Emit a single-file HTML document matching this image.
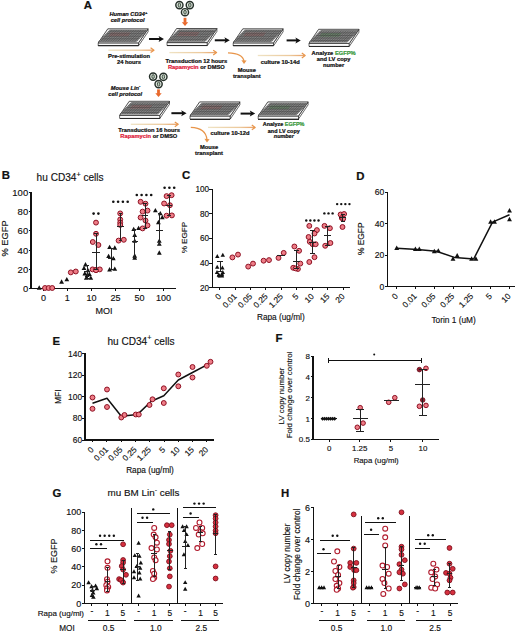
<!DOCTYPE html>
<html><head><meta charset="utf-8"><title>Figure</title>
<style>
html,body{margin:0;padding:0;background:#fff;width:520px;height:633px;overflow:hidden}
svg{display:block;font-family:"Liberation Sans", sans-serif}
</style></head>
<body>
<svg width="520" height="633" viewBox="0 0 520 633">
<defs>
<pattern id="grid" width="1.8" height="1.6" patternUnits="userSpaceOnUse" patternTransform="skewX(-34)">
<rect width="1.8" height="1.6" fill="#505050"/>
<rect x="0.4" y="0.35" width="0.9" height="0.85" fill="#b4b4b4"/>
</pattern>
<linearGradient id="og" x1="0" x2="1" y1="0" y2="0">
<stop offset="0" stop-color="#efe3c4"/>
<stop offset="0.7" stop-color="#ecc89a"/>
<stop offset="1" stop-color="#e9a066"/>
</linearGradient>
</defs>
<text x="83.8" y="9.4" font-size="11.4" text-anchor="start" fill="#111" font-weight="bold" stroke="#111" stroke-width="0.22">A</text>
<text x="128.4" y="16" font-size="5.7" text-anchor="middle" fill="#111" font-weight="bold" font-style="italic" stroke="#111" stroke-width="0.22">Human CD34<tspan dy="-1.8" font-size="4">+</tspan></text>
<text x="127.6" y="21.8" font-size="5.7" text-anchor="middle" fill="#111" font-weight="bold" font-style="italic" stroke="#111" stroke-width="0.22">cell protocol</text>
<polygon points="98.2,42.9 138.5,42.9 138.5,45.9 98.2,45.9" fill="#fbfbfb" stroke="#2a2a2a" stroke-width="0.7"/>
<line x1="98.2" y1="45.9" x2="138.5" y2="45.9" stroke="#2a2a2a" stroke-width="1" shape-rendering="crispEdges"/>
<polygon points="138.5,42.9 148.1,28.8 148.1,31.8 138.5,45.9" fill="#f4f4f4" stroke="#2a2a2a" stroke-width="0.7"/>
<polygon points="107.8,28.8 148.1,28.8 138.5,42.9 98.2,42.9" fill="#eeeeee" stroke="#2a2a2a" stroke-width="0.8"/>
<polygon points="109.99,30.1 147.69,30.1 136.31,41.6 98.61,41.6" fill="#a4a4a4" stroke="#333" stroke-width="0.5"/>
<polygon points="110.85,32.4 130.85,32.4 128.26,36.2 108.26,36.2" fill="#c85a5a" stroke="none" stroke-width="0" opacity="0.35"/>
<path d="M100.33 41.6L111.7 30.1M102.04 41.6L113.41 30.1M103.76 41.6L115.13 30.1M105.47 41.6L116.84 30.1M107.18 41.6L118.55 30.1M108.9 41.6L120.27 30.1M110.61 41.6L121.98 30.1M112.32 41.6L123.69 30.1M114.04 41.6L125.41 30.1M115.75 41.6L127.12 30.1M117.46 41.6L128.84 30.1M119.18 41.6L130.55 30.1M120.89 41.6L132.26 30.1M122.61 41.6L133.98 30.1M124.32 41.6L135.69 30.1M126.03 41.6L137.4 30.1M127.75 41.6L139.12 30.1M129.46 41.6L140.83 30.1M131.17 41.6L142.54 30.1M132.89 41.6L144.26 30.1M134.6 41.6L145.97 30.1M100.24 39.96L137.94 39.96M101.86 38.31L139.56 38.31M103.49 36.67L141.19 36.67M105.11 35.03L142.81 35.03M106.74 33.39L144.44 33.39M108.36 31.74L146.06 31.74" stroke="#3a3a3a" stroke-width="0.55" fill="none"/>
<line x1="149" y1="39" x2="160.5" y2="39" stroke="#111" stroke-width="2" stroke-linecap="butt"/>
<polygon points="164,39 158.6,36 159.8,39 158.6,42" fill="#111" stroke="none" stroke-width="0"/>
<circle cx="179.4" cy="5.1" r="3.6" fill="#dfe8df" stroke="#26302a" stroke-width="1.45"/>
<ellipse cx="179.4" cy="5.1" rx="1.25" ry="2.0" fill="#b9cdb9" stroke="#2f3a32" stroke-width="0.85"/>
<circle cx="189.8" cy="5.1" r="3.6" fill="#dfe8df" stroke="#26302a" stroke-width="1.45"/>
<ellipse cx="189.8" cy="5.1" rx="1.25" ry="2.0" fill="#b9cdb9" stroke="#2f3a32" stroke-width="0.85"/>
<circle cx="185" cy="12.2" r="3.6" fill="#dfe8df" stroke="#26302a" stroke-width="1.45"/>
<ellipse cx="185" cy="12.2" rx="1.25" ry="2.0" fill="#b9cdb9" stroke="#2f3a32" stroke-width="0.85"/>
<line x1="185" y1="17.8" x2="185" y2="22.8" stroke="#e8692c" stroke-width="2.8"/>
<polygon points="181.8,22.2 188.2,22.2 185,26" fill="#e8692c" stroke="none" stroke-width="0"/>
<polygon points="167,42.6 207.3,42.6 207.3,45.6 167,45.6" fill="#fbfbfb" stroke="#2a2a2a" stroke-width="0.7"/>
<line x1="167" y1="45.6" x2="207.3" y2="45.6" stroke="#2a2a2a" stroke-width="1" shape-rendering="crispEdges"/>
<polygon points="207.3,42.6 216.9,28.5 216.9,31.5 207.3,45.6" fill="#f4f4f4" stroke="#2a2a2a" stroke-width="0.7"/>
<polygon points="176.6,28.5 216.9,28.5 207.3,42.6 167,42.6" fill="#eeeeee" stroke="#2a2a2a" stroke-width="0.8"/>
<polygon points="178.79,29.8 216.49,29.8 205.11,41.3 167.41,41.3" fill="#a4a4a4" stroke="#333" stroke-width="0.5"/>
<polygon points="179.65,32.1 199.65,32.1 197.06,35.9 177.06,35.9" fill="#c85a5a" stroke="none" stroke-width="0" opacity="0.35"/>
<path d="M169.13 41.3L180.5 29.8M170.84 41.3L182.21 29.8M172.56 41.3L183.93 29.8M174.27 41.3L185.64 29.8M175.98 41.3L187.35 29.8M177.7 41.3L189.07 29.8M179.41 41.3L190.78 29.8M181.12 41.3L192.49 29.8M182.84 41.3L194.21 29.8M184.55 41.3L195.92 29.8M186.26 41.3L197.64 29.8M187.98 41.3L199.35 29.8M189.69 41.3L201.06 29.8M191.41 41.3L202.78 29.8M193.12 41.3L204.49 29.8M194.83 41.3L206.2 29.8M196.55 41.3L207.92 29.8M198.26 41.3L209.63 29.8M199.97 41.3L211.34 29.8M201.69 41.3L213.06 29.8M203.4 41.3L214.77 29.8M169.04 39.66L206.74 39.66M170.66 38.01L208.36 38.01M172.29 36.37L209.99 36.37M173.91 34.73L211.61 34.73M175.54 33.09L213.24 33.09M177.16 31.44L214.86 31.44" stroke="#3a3a3a" stroke-width="0.55" fill="none"/>
<line x1="214.8" y1="40.3" x2="226.3" y2="40.3" stroke="#111" stroke-width="2" stroke-linecap="butt"/>
<polygon points="229.8,40.3 224.4,37.3 225.6,40.3 224.4,43.3" fill="#111" stroke="none" stroke-width="0"/>
<polygon points="233.2,42.9 273.5,42.9 273.5,45.9 233.2,45.9" fill="#fbfbfb" stroke="#2a2a2a" stroke-width="0.7"/>
<line x1="233.2" y1="45.9" x2="273.5" y2="45.9" stroke="#2a2a2a" stroke-width="1" shape-rendering="crispEdges"/>
<polygon points="273.5,42.9 283.1,28.8 283.1,31.8 273.5,45.9" fill="#f4f4f4" stroke="#2a2a2a" stroke-width="0.7"/>
<polygon points="242.8,28.8 283.1,28.8 273.5,42.9 233.2,42.9" fill="#eeeeee" stroke="#2a2a2a" stroke-width="0.8"/>
<polygon points="244.99,30.1 282.69,30.1 271.31,41.6 233.61,41.6" fill="#a4a4a4" stroke="#333" stroke-width="0.5"/>
<polygon points="245.85,32.4 265.85,32.4 263.26,36.2 243.26,36.2" fill="#c85a5a" stroke="none" stroke-width="0" opacity="0.35"/>
<path d="M235.33 41.6L246.7 30.1M237.04 41.6L248.41 30.1M238.76 41.6L250.13 30.1M240.47 41.6L251.84 30.1M242.18 41.6L253.55 30.1M243.9 41.6L255.27 30.1M245.61 41.6L256.98 30.1M247.32 41.6L258.69 30.1M249.04 41.6L260.41 30.1M250.75 41.6L262.12 30.1M252.46 41.6L263.84 30.1M254.18 41.6L265.55 30.1M255.89 41.6L267.26 30.1M257.61 41.6L268.98 30.1M259.32 41.6L270.69 30.1M261.03 41.6L272.4 30.1M262.75 41.6L274.12 30.1M264.46 41.6L275.83 30.1M266.17 41.6L277.54 30.1M267.89 41.6L279.26 30.1M269.6 41.6L280.97 30.1M235.24 39.96L272.94 39.96M236.86 38.31L274.56 38.31M238.49 36.67L276.19 36.67M240.11 35.03L277.81 35.03M241.74 33.39L279.44 33.39M243.36 31.74L281.06 31.74" stroke="#3a3a3a" stroke-width="0.55" fill="none"/>
<line x1="286.6" y1="40.4" x2="297.3" y2="40.4" stroke="#111" stroke-width="2" stroke-linecap="butt"/>
<polygon points="300.8,40.4 295.4,37.4 296.6,40.4 295.4,43.4" fill="#111" stroke="none" stroke-width="0"/>
<polygon points="309,43.4 349.3,43.4 349.3,46.4 309,46.4" fill="#fbfbfb" stroke="#2a2a2a" stroke-width="0.7"/>
<line x1="309" y1="46.4" x2="349.3" y2="46.4" stroke="#2a2a2a" stroke-width="1" shape-rendering="crispEdges"/>
<polygon points="349.3,43.4 358.9,29.3 358.9,32.3 349.3,46.4" fill="#f4f4f4" stroke="#2a2a2a" stroke-width="0.7"/>
<polygon points="318.6,29.3 358.9,29.3 349.3,43.4 309,43.4" fill="#eeeeee" stroke="#2a2a2a" stroke-width="0.8"/>
<polygon points="320.79,30.6 358.49,30.6 347.11,42.1 309.41,42.1" fill="#a4a4a4" stroke="#333" stroke-width="0.5"/>
<polygon points="321.65,32.9 341.65,32.9 339.06,36.7 319.06,36.7" fill="#3c9a3c" stroke="none" stroke-width="0" opacity="0.35"/>
<path d="M311.13 42.1L322.5 30.6M312.84 42.1L324.21 30.6M314.56 42.1L325.93 30.6M316.27 42.1L327.64 30.6M317.98 42.1L329.35 30.6M319.7 42.1L331.07 30.6M321.41 42.1L332.78 30.6M323.12 42.1L334.49 30.6M324.84 42.1L336.21 30.6M326.55 42.1L337.92 30.6M328.26 42.1L339.64 30.6M329.98 42.1L341.35 30.6M331.69 42.1L343.06 30.6M333.41 42.1L344.78 30.6M335.12 42.1L346.49 30.6M336.83 42.1L348.2 30.6M338.55 42.1L349.92 30.6M340.26 42.1L351.63 30.6M341.97 42.1L353.34 30.6M343.69 42.1L355.06 30.6M345.4 42.1L356.77 30.6M311.04 40.46L348.74 40.46M312.66 38.81L350.36 38.81M314.29 37.17L351.99 37.17M315.91 35.53L353.61 35.53M317.54 33.89L355.24 33.89M319.16 32.24L356.86 32.24" stroke="#3a3a3a" stroke-width="0.55" fill="none"/>
<rect x="108.4" y="49.55" width="44.8" height="1.3" fill="url(#og)"/>
<polyline points="150.6,47.8 154,50.2 150.6,52.6" fill="none" stroke="#e8954a" stroke-width="1.2" stroke-linejoin="round"/>
<text x="129" y="58.4" font-size="5.75" text-anchor="middle" fill="#111" font-weight="bold" stroke="#111" stroke-width="0.22">Pre-stimulation</text>
<text x="129" y="64.2" font-size="5.75" text-anchor="middle" fill="#111" font-weight="bold" stroke="#111" stroke-width="0.22">24 hours</text>
<rect x="169.4" y="51.95" width="46.4" height="1.3" fill="url(#og)"/>
<polyline points="213.2,50.2 216.6,52.6 213.2,55" fill="none" stroke="#e8954a" stroke-width="1.2" stroke-linejoin="round"/>
<text x="196.4" y="62.8" font-size="5.75" text-anchor="middle" fill="#111" font-weight="bold" stroke="#111" stroke-width="0.22">Transduction 12 hours</text>
<text x="196.4" y="69" font-size="5.75" text-anchor="middle" fill="#111" font-weight="bold" stroke="#111" stroke-width="0.22"><tspan fill="#e0203a" stroke="#e0203a">Rapamycin</tspan> or DMSO</text>
<path d="M228 52.8 Q243 53.3 244 61.3" fill="none" stroke="#e8954a" stroke-width="1.2"/>
<polygon points="244,64 241.4,60.2 246.6,60.6" fill="#e8954a" stroke="none" stroke-width="0"/>
<text x="246.8" y="72" font-size="5.75" text-anchor="middle" fill="#111" font-weight="bold" stroke="#111" stroke-width="0.22">Mouse</text>
<text x="246.8" y="78" font-size="5.75" text-anchor="middle" fill="#111" font-weight="bold" stroke="#111" stroke-width="0.22">transplant</text>
<rect x="257.8" y="54.85" width="46.6" height="1.3" fill="url(#og)"/>
<polyline points="301.8,53.1 305.2,55.5 301.8,57.9" fill="none" stroke="#e8954a" stroke-width="1.2" stroke-linejoin="round"/>
<text x="280.2" y="63.8" font-size="5.75" text-anchor="middle" fill="#111" font-weight="bold" stroke="#111" stroke-width="0.22">culture 10-14d</text>
<text x="333.6" y="54.6" font-size="5.75" text-anchor="middle" fill="#111" font-weight="bold" stroke="#111" stroke-width="0.22">Analyze <tspan fill="#3d9a3f" stroke="#3d9a3f">EGFP%</tspan></text>
<text x="333.6" y="61" font-size="5.75" text-anchor="middle" fill="#111" font-weight="bold" stroke="#111" stroke-width="0.22">and LV copy</text>
<text x="333.6" y="67.2" font-size="5.75" text-anchor="middle" fill="#111" font-weight="bold" stroke="#111" stroke-width="0.22">number</text>
<circle cx="153.1" cy="76.6" r="3.6" fill="#dfe8df" stroke="#26302a" stroke-width="1.45"/>
<ellipse cx="153.1" cy="76.6" rx="1.25" ry="2.0" fill="#b9cdb9" stroke="#2f3a32" stroke-width="0.85"/>
<circle cx="163.4" cy="76.8" r="3.6" fill="#dfe8df" stroke="#26302a" stroke-width="1.45"/>
<ellipse cx="163.4" cy="76.8" rx="1.25" ry="2.0" fill="#b9cdb9" stroke="#2f3a32" stroke-width="0.85"/>
<circle cx="158.6" cy="84.1" r="3.6" fill="#dfe8df" stroke="#26302a" stroke-width="1.45"/>
<ellipse cx="158.6" cy="84.1" rx="1.25" ry="2.0" fill="#b9cdb9" stroke="#2f3a32" stroke-width="0.85"/>
<line x1="158.5" y1="89.4" x2="158.5" y2="93.9" stroke="#e8692c" stroke-width="2.8"/>
<polygon points="155.3,93.3 161.7,93.3 158.5,97.1" fill="#e8692c" stroke="none" stroke-width="0"/>
<text x="125.6" y="89.8" font-size="5.7" text-anchor="middle" fill="#111" font-weight="bold" font-style="italic" stroke="#111" stroke-width="0.22">Mouse Lin<tspan dy="-2.4" font-size="4">-</tspan></text>
<text x="125.2" y="95.6" font-size="5.7" text-anchor="middle" fill="#111" font-weight="bold" font-style="italic" stroke="#111" stroke-width="0.22">cell protocol</text>
<polygon points="119.6,115.4 159.9,115.4 159.9,118.4 119.6,118.4" fill="#fbfbfb" stroke="#2a2a2a" stroke-width="0.7"/>
<line x1="119.6" y1="118.4" x2="159.9" y2="118.4" stroke="#2a2a2a" stroke-width="1" shape-rendering="crispEdges"/>
<polygon points="159.9,115.4 169.5,101.3 169.5,104.3 159.9,118.4" fill="#f4f4f4" stroke="#2a2a2a" stroke-width="0.7"/>
<polygon points="129.2,101.3 169.5,101.3 159.9,115.4 119.6,115.4" fill="#eeeeee" stroke="#2a2a2a" stroke-width="0.8"/>
<polygon points="131.39,102.6 169.09,102.6 157.71,114.1 120.01,114.1" fill="#a4a4a4" stroke="#333" stroke-width="0.5"/>
<polygon points="132.25,104.9 152.25,104.9 149.66,108.7 129.66,108.7" fill="#c85a5a" stroke="none" stroke-width="0" opacity="0.35"/>
<path d="M121.73 114.1L133.1 102.6M123.44 114.1L134.81 102.6M125.16 114.1L136.53 102.6M126.87 114.1L138.24 102.6M128.58 114.1L139.95 102.6M130.3 114.1L141.67 102.6M132.01 114.1L143.38 102.6M133.72 114.1L145.09 102.6M135.44 114.1L146.81 102.6M137.15 114.1L148.52 102.6M138.86 114.1L150.24 102.6M140.58 114.1L151.95 102.6M142.29 114.1L153.66 102.6M144.01 114.1L155.38 102.6M145.72 114.1L157.09 102.6M147.43 114.1L158.8 102.6M149.15 114.1L160.52 102.6M150.86 114.1L162.23 102.6M152.57 114.1L163.94 102.6M154.29 114.1L165.66 102.6M156 114.1L167.37 102.6M121.64 112.46L159.34 112.46M123.26 110.81L160.96 110.81M124.89 109.17L162.59 109.17M126.51 107.53L164.21 107.53M128.14 105.89L165.84 105.89M129.76 104.24L167.46 104.24" stroke="#3a3a3a" stroke-width="0.55" fill="none"/>
<line x1="171.4" y1="113.2" x2="183.1" y2="113.2" stroke="#111" stroke-width="2" stroke-linecap="butt"/>
<polygon points="186.6,113.2 181.2,110.2 182.4,113.2 181.2,116.2" fill="#111" stroke="none" stroke-width="0"/>
<polygon points="190,116 230.3,116 230.3,119 190,119" fill="#fbfbfb" stroke="#2a2a2a" stroke-width="0.7"/>
<line x1="190" y1="119" x2="230.3" y2="119" stroke="#2a2a2a" stroke-width="1" shape-rendering="crispEdges"/>
<polygon points="230.3,116 239.9,101.9 239.9,104.9 230.3,119" fill="#f4f4f4" stroke="#2a2a2a" stroke-width="0.7"/>
<polygon points="199.6,101.9 239.9,101.9 230.3,116 190,116" fill="#eeeeee" stroke="#2a2a2a" stroke-width="0.8"/>
<polygon points="201.79,103.2 239.49,103.2 228.11,114.7 190.41,114.7" fill="#a4a4a4" stroke="#333" stroke-width="0.5"/>
<polygon points="202.65,105.5 222.65,105.5 220.06,109.3 200.06,109.3" fill="#c85a5a" stroke="none" stroke-width="0" opacity="0.35"/>
<path d="M192.13 114.7L203.5 103.2M193.84 114.7L205.21 103.2M195.56 114.7L206.93 103.2M197.27 114.7L208.64 103.2M198.98 114.7L210.35 103.2M200.7 114.7L212.07 103.2M202.41 114.7L213.78 103.2M204.12 114.7L215.49 103.2M205.84 114.7L217.21 103.2M207.55 114.7L218.92 103.2M209.26 114.7L220.64 103.2M210.98 114.7L222.35 103.2M212.69 114.7L224.06 103.2M214.41 114.7L225.78 103.2M216.12 114.7L227.49 103.2M217.83 114.7L229.2 103.2M219.55 114.7L230.92 103.2M221.26 114.7L232.63 103.2M222.97 114.7L234.34 103.2M224.69 114.7L236.06 103.2M226.4 114.7L237.77 103.2M192.04 113.06L229.74 113.06M193.66 111.41L231.36 111.41M195.29 109.77L232.99 109.77M196.91 108.13L234.61 108.13M198.54 106.49L236.24 106.49M200.16 104.84L237.86 104.84" stroke="#3a3a3a" stroke-width="0.55" fill="none"/>
<line x1="240.6" y1="113.6" x2="251.7" y2="113.6" stroke="#111" stroke-width="2" stroke-linecap="butt"/>
<polygon points="255.2,113.6 249.8,110.6 251,113.6 249.8,116.6" fill="#111" stroke="none" stroke-width="0"/>
<polygon points="258.2,116 298.5,116 298.5,119 258.2,119" fill="#fbfbfb" stroke="#2a2a2a" stroke-width="0.7"/>
<line x1="258.2" y1="119" x2="298.5" y2="119" stroke="#2a2a2a" stroke-width="1" shape-rendering="crispEdges"/>
<polygon points="298.5,116 308.1,101.9 308.1,104.9 298.5,119" fill="#f4f4f4" stroke="#2a2a2a" stroke-width="0.7"/>
<polygon points="267.8,101.9 308.1,101.9 298.5,116 258.2,116" fill="#eeeeee" stroke="#2a2a2a" stroke-width="0.8"/>
<polygon points="269.99,103.2 307.69,103.2 296.31,114.7 258.61,114.7" fill="#a4a4a4" stroke="#333" stroke-width="0.5"/>
<polygon points="270.85,105.5 290.85,105.5 288.26,109.3 268.26,109.3" fill="#3c9a3c" stroke="none" stroke-width="0" opacity="0.35"/>
<path d="M260.33 114.7L271.7 103.2M262.04 114.7L273.41 103.2M263.76 114.7L275.13 103.2M265.47 114.7L276.84 103.2M267.18 114.7L278.55 103.2M268.9 114.7L280.27 103.2M270.61 114.7L281.98 103.2M272.32 114.7L283.69 103.2M274.04 114.7L285.41 103.2M275.75 114.7L287.12 103.2M277.46 114.7L288.84 103.2M279.18 114.7L290.55 103.2M280.89 114.7L292.26 103.2M282.61 114.7L293.98 103.2M284.32 114.7L295.69 103.2M286.03 114.7L297.4 103.2M287.75 114.7L299.12 103.2M289.46 114.7L300.83 103.2M291.17 114.7L302.54 103.2M292.89 114.7L304.26 103.2M294.6 114.7L305.97 103.2M260.24 113.06L297.94 113.06M261.86 111.41L299.56 111.41M263.49 109.77L301.19 109.77M265.11 108.13L302.81 108.13M266.74 106.49L304.44 106.49M268.36 104.84L306.06 104.84" stroke="#3a3a3a" stroke-width="0.55" fill="none"/>
<rect x="130.8" y="123.65" width="46.6" height="1.3" fill="url(#og)"/>
<polyline points="174.8,121.9 178.2,124.3 174.8,126.7" fill="none" stroke="#e8954a" stroke-width="1.2" stroke-linejoin="round"/>
<text x="149.2" y="132" font-size="5.75" text-anchor="middle" fill="#111" font-weight="bold" stroke="#111" stroke-width="0.22">Transduction 16 hours</text>
<text x="148.8" y="137.8" font-size="5.75" text-anchor="middle" fill="#111" font-weight="bold" stroke="#111" stroke-width="0.22"><tspan fill="#e0203a" stroke="#e0203a">Rapamycin</tspan> or DMSO</text>
<rect x="208" y="126.75" width="46.4" height="1.3" fill="url(#og)"/>
<polyline points="251.8,125 255.2,127.4 251.8,129.8" fill="none" stroke="#e8954a" stroke-width="1.2" stroke-linejoin="round"/>
<text x="230" y="134.6" font-size="5.75" text-anchor="middle" fill="#111" font-weight="bold" stroke="#111" stroke-width="0.22">culture 10-12d</text>
<path d="M190.8 127.4 Q206 127.9 207 139.9" fill="none" stroke="#e8954a" stroke-width="1.2"/>
<polygon points="207,142.6 204.4,138.8 209.6,139.2" fill="#e8954a" stroke="none" stroke-width="0"/>
<text x="209" y="149" font-size="5.75" text-anchor="middle" fill="#111" font-weight="bold" stroke="#111" stroke-width="0.22">Mouse</text>
<text x="209" y="155.2" font-size="5.75" text-anchor="middle" fill="#111" font-weight="bold" stroke="#111" stroke-width="0.22">transplant</text>
<text x="283.6" y="126.4" font-size="5.45" text-anchor="middle" fill="#111" font-weight="bold" stroke="#111" stroke-width="0.22">Analyze <tspan fill="#3d9a3f" stroke="#3d9a3f">EGFP%</tspan></text>
<text x="283.8" y="132.6" font-size="5.45" text-anchor="middle" fill="#111" font-weight="bold" stroke="#111" stroke-width="0.22">and LV copy</text>
<text x="283.8" y="138.4" font-size="5.45" text-anchor="middle" fill="#111" font-weight="bold" font-style="italic" stroke="#111" stroke-width="0.22">number</text>
<text x="1.8" y="178.9" font-size="11.4" text-anchor="start" fill="#111" font-weight="bold" stroke="#111" stroke-width="0.22">B</text>
<text x="36.6" y="181.1" font-size="10.1" text-anchor="start" fill="#111" stroke="#111" stroke-width="0.15">hu CD34<tspan dy="-4.4" font-size="7.2">+</tspan><tspan dy="4.4"> cells</tspan></text>
<line x1="31" y1="192.2" x2="31" y2="288.9" stroke="#111" stroke-width="1.1" shape-rendering="crispEdges"/>
<line x1="28.8" y1="288.4" x2="31" y2="288.4" stroke="#111" stroke-width="1" shape-rendering="crispEdges"/>
<text x="28.2" y="291.82" font-size="9.5" text-anchor="end" fill="#111" stroke="#111" stroke-width="0.15">0</text>
<line x1="28.8" y1="269.24" x2="31" y2="269.24" stroke="#111" stroke-width="1" shape-rendering="crispEdges"/>
<text x="28.2" y="272.66" font-size="9.5" text-anchor="end" fill="#111" stroke="#111" stroke-width="0.15">20</text>
<line x1="28.8" y1="250.08" x2="31" y2="250.08" stroke="#111" stroke-width="1" shape-rendering="crispEdges"/>
<text x="28.2" y="253.5" font-size="9.5" text-anchor="end" fill="#111" stroke="#111" stroke-width="0.15">40</text>
<line x1="28.8" y1="230.92" x2="31" y2="230.92" stroke="#111" stroke-width="1" shape-rendering="crispEdges"/>
<text x="28.2" y="234.34" font-size="9.5" text-anchor="end" fill="#111" stroke="#111" stroke-width="0.15">60</text>
<line x1="28.8" y1="211.76" x2="31" y2="211.76" stroke="#111" stroke-width="1" shape-rendering="crispEdges"/>
<text x="28.2" y="215.18" font-size="9.5" text-anchor="end" fill="#111" stroke="#111" stroke-width="0.15">80</text>
<line x1="28.8" y1="192.6" x2="31" y2="192.6" stroke="#111" stroke-width="1" shape-rendering="crispEdges"/>
<text x="28.2" y="196.02" font-size="9.5" text-anchor="end" fill="#111" stroke="#111" stroke-width="0.15">100</text>
<line x1="30.5" y1="288.4" x2="175.5" y2="288.4" stroke="#111" stroke-width="1.1" shape-rendering="crispEdges"/>
<line x1="43.4" y1="288.4" x2="43.4" y2="290.8" stroke="#111" stroke-width="1" shape-rendering="crispEdges"/>
<text x="43.4" y="301" font-size="9" text-anchor="middle" fill="#111" stroke="#111" stroke-width="0.15">0</text>
<line x1="67.3" y1="288.4" x2="67.3" y2="290.8" stroke="#111" stroke-width="1" shape-rendering="crispEdges"/>
<text x="67.3" y="301" font-size="9" text-anchor="middle" fill="#111" stroke="#111" stroke-width="0.15">1</text>
<line x1="91.4" y1="288.4" x2="91.4" y2="290.8" stroke="#111" stroke-width="1" shape-rendering="crispEdges"/>
<text x="91.4" y="301" font-size="9" text-anchor="middle" fill="#111" stroke="#111" stroke-width="0.15">10</text>
<line x1="115.5" y1="288.4" x2="115.5" y2="290.8" stroke="#111" stroke-width="1" shape-rendering="crispEdges"/>
<text x="115.5" y="301" font-size="9" text-anchor="middle" fill="#111" stroke="#111" stroke-width="0.15">25</text>
<line x1="139.6" y1="288.4" x2="139.6" y2="290.8" stroke="#111" stroke-width="1" shape-rendering="crispEdges"/>
<text x="139.6" y="301" font-size="9" text-anchor="middle" fill="#111" stroke="#111" stroke-width="0.15">50</text>
<line x1="163.5" y1="288.4" x2="163.5" y2="290.8" stroke="#111" stroke-width="1" shape-rendering="crispEdges"/>
<text x="163.5" y="301" font-size="9" text-anchor="middle" fill="#111" stroke="#111" stroke-width="0.15">100</text>
<text x="104" y="313.9" font-size="9" text-anchor="middle" fill="#111" stroke="#111" stroke-width="0.15">MOI</text>
<text x="8.2" y="238.4" font-size="9.3" text-anchor="middle" fill="#111" stroke="#111" stroke-width="0.15" transform="rotate(-90 8.2 238.4)">% EGFP</text>
<polygon points="39.2,285.32 41.6,289.64 36.8,289.64" fill="#111" stroke="none" stroke-width="0"/>
<circle cx="45" cy="288" r="2.45" fill="#ee7d87" stroke="#8e1022" stroke-width="1"/>
<circle cx="48.6" cy="288" r="2.45" fill="#ee7d87" stroke="#8e1022" stroke-width="1"/>
<circle cx="52.2" cy="288" r="2.45" fill="#ee7d87" stroke="#8e1022" stroke-width="1"/>
<polygon points="61.6,279.32 64,283.64 59.2,283.64" fill="#111" stroke="none" stroke-width="0"/>
<polygon points="66.8,276.92 69.2,281.24 64.4,281.24" fill="#111" stroke="none" stroke-width="0"/>
<circle cx="70.8" cy="272.4" r="2.45" fill="#ee7d87" stroke="#8e1022" stroke-width="1"/>
<circle cx="75.8" cy="271.5" r="2.45" fill="#ee7d87" stroke="#8e1022" stroke-width="1"/>
<polygon points="85.5,262.12 87.9,266.44 83.1,266.44" fill="#111" stroke="none" stroke-width="0"/>
<polygon points="84,265.72 86.4,270.04 81.6,270.04" fill="#111" stroke="none" stroke-width="0"/>
<polygon points="88,267.92 90.4,272.24 85.6,272.24" fill="#111" stroke="none" stroke-width="0"/>
<polygon points="84.8,271.12 87.2,275.44 82.4,275.44" fill="#111" stroke="none" stroke-width="0"/>
<polygon points="89.4,271.72 91.8,276.04 87,276.04" fill="#111" stroke="none" stroke-width="0"/>
<polygon points="86.3,275.52 88.7,279.84 83.9,279.84" fill="#111" stroke="none" stroke-width="0"/>
<polygon points="90.8,275.52 93.2,279.84 88.4,279.84" fill="#111" stroke="none" stroke-width="0"/>
<polygon points="87.2,272.62 89.6,276.94 84.8,276.94" fill="#111" stroke="none" stroke-width="0"/>
<line x1="87.2" y1="265.5" x2="87.2" y2="278" stroke="#222" stroke-width="1" shape-rendering="crispEdges"/>
<line x1="85.7" y1="265.5" x2="88.7" y2="265.5" stroke="#222" stroke-width="1" shape-rendering="crispEdges"/>
<line x1="85.7" y1="278" x2="88.7" y2="278" stroke="#222" stroke-width="1" shape-rendering="crispEdges"/>
<line x1="84.2" y1="271" x2="90.2" y2="271" stroke="#222" stroke-width="1" shape-rendering="crispEdges"/>
<circle cx="96" cy="222.6" r="2.45" fill="#ee7d87" stroke="#8e1022" stroke-width="1"/>
<circle cx="96" cy="233.8" r="2.45" fill="#ee7d87" stroke="#8e1022" stroke-width="1"/>
<circle cx="92.8" cy="242" r="2.45" fill="#ee7d87" stroke="#8e1022" stroke-width="1"/>
<circle cx="98.4" cy="245" r="2.45" fill="#ee7d87" stroke="#8e1022" stroke-width="1"/>
<circle cx="92.6" cy="269.4" r="2.45" fill="#ee7d87" stroke="#8e1022" stroke-width="1"/>
<circle cx="96" cy="269.9" r="2.45" fill="#ee7d87" stroke="#8e1022" stroke-width="1"/>
<circle cx="99.8" cy="269.4" r="2.45" fill="#ee7d87" stroke="#8e1022" stroke-width="1"/>
<circle cx="96" cy="270.2" r="2.45" fill="#ee7d87" stroke="#8e1022" stroke-width="1"/>
<line x1="96" y1="233.8" x2="96" y2="269.6" stroke="#222" stroke-width="1" shape-rendering="crispEdges"/>
<line x1="94.4" y1="233.8" x2="97.6" y2="233.8" stroke="#222" stroke-width="1" shape-rendering="crispEdges"/>
<line x1="94.4" y1="269.6" x2="97.6" y2="269.6" stroke="#222" stroke-width="1" shape-rendering="crispEdges"/>
<line x1="92.4" y1="252.6" x2="99.6" y2="252.6" stroke="#222" stroke-width="1" shape-rendering="crispEdges"/>
<circle cx="93.6" cy="213.6" r="1.3" fill="#111"/>
<circle cx="98.4" cy="213.6" r="1.3" fill="#111"/>
<polygon points="109.6,244.72 112,249.04 107.2,249.04" fill="#111" stroke="none" stroke-width="0"/>
<polygon points="114.8,245.32 117.2,249.64 112.4,249.64" fill="#111" stroke="none" stroke-width="0"/>
<polygon points="108.6,253.72 111,258.04 106.2,258.04" fill="#111" stroke="none" stroke-width="0"/>
<polygon points="113.3,255.92 115.7,260.24 110.9,260.24" fill="#111" stroke="none" stroke-width="0"/>
<polygon points="109.6,267.12 112,271.44 107.2,271.44" fill="#111" stroke="none" stroke-width="0"/>
<polygon points="114.8,266.52 117.2,270.84 112.4,270.84" fill="#111" stroke="none" stroke-width="0"/>
<line x1="111.4" y1="248.2" x2="111.4" y2="269.4" stroke="#222" stroke-width="1" shape-rendering="crispEdges"/>
<line x1="109.8" y1="248.2" x2="113" y2="248.2" stroke="#222" stroke-width="1" shape-rendering="crispEdges"/>
<line x1="109.8" y1="269.4" x2="113" y2="269.4" stroke="#222" stroke-width="1" shape-rendering="crispEdges"/>
<line x1="108.2" y1="258.6" x2="114.6" y2="258.6" stroke="#222" stroke-width="1" shape-rendering="crispEdges"/>
<circle cx="120.2" cy="213.4" r="2.45" fill="#ee7d87" stroke="#8e1022" stroke-width="1"/>
<circle cx="120.2" cy="219.5" r="2.45" fill="#ee7d87" stroke="#8e1022" stroke-width="1"/>
<circle cx="120.2" cy="222.6" r="2.45" fill="#ee7d87" stroke="#8e1022" stroke-width="1"/>
<circle cx="120.2" cy="224.9" r="2.45" fill="#ee7d87" stroke="#8e1022" stroke-width="1"/>
<circle cx="118.6" cy="240.6" r="2.45" fill="#ee7d87" stroke="#8e1022" stroke-width="1"/>
<circle cx="123.8" cy="239.8" r="2.45" fill="#ee7d87" stroke="#8e1022" stroke-width="1"/>
<line x1="120.2" y1="213.6" x2="120.2" y2="240" stroke="#222" stroke-width="1" shape-rendering="crispEdges"/>
<line x1="118.6" y1="213.6" x2="121.8" y2="213.6" stroke="#222" stroke-width="1" shape-rendering="crispEdges"/>
<line x1="118.6" y1="240" x2="121.8" y2="240" stroke="#222" stroke-width="1" shape-rendering="crispEdges"/>
<line x1="116.8" y1="226.4" x2="123.6" y2="226.4" stroke="#222" stroke-width="1" shape-rendering="crispEdges"/>
<circle cx="113.3" cy="201.8" r="1.3" fill="#111"/>
<circle cx="118.1" cy="201.8" r="1.3" fill="#111"/>
<circle cx="122.9" cy="201.8" r="1.3" fill="#111"/>
<circle cx="127.7" cy="201.8" r="1.3" fill="#111"/>
<polygon points="133.7,226.72 136.1,231.04 131.3,231.04" fill="#111" stroke="none" stroke-width="0"/>
<polygon points="138.6,225.72 141,230.04 136.2,230.04" fill="#111" stroke="none" stroke-width="0"/>
<polygon points="134.7,232.62 137.1,236.94 132.3,236.94" fill="#111" stroke="none" stroke-width="0"/>
<polygon points="134.7,238.52 137.1,242.84 132.3,242.84" fill="#111" stroke="none" stroke-width="0"/>
<polygon points="134.7,253.32 137.1,257.64 132.3,257.64" fill="#111" stroke="none" stroke-width="0"/>
<polygon points="134.7,255.32 137.1,259.64 132.3,259.64" fill="#111" stroke="none" stroke-width="0"/>
<line x1="134.7" y1="229.4" x2="134.7" y2="257.8" stroke="#222" stroke-width="1" shape-rendering="crispEdges"/>
<line x1="133.1" y1="229.4" x2="136.3" y2="229.4" stroke="#222" stroke-width="1" shape-rendering="crispEdges"/>
<line x1="133.1" y1="257.8" x2="136.3" y2="257.8" stroke="#222" stroke-width="1" shape-rendering="crispEdges"/>
<line x1="131.5" y1="241.2" x2="137.9" y2="241.2" stroke="#222" stroke-width="1" shape-rendering="crispEdges"/>
<circle cx="140.6" cy="201.8" r="2.45" fill="#ee7d87" stroke="#8e1022" stroke-width="1"/>
<circle cx="145.5" cy="203.7" r="2.45" fill="#ee7d87" stroke="#8e1022" stroke-width="1"/>
<circle cx="142.6" cy="211.6" r="2.45" fill="#ee7d87" stroke="#8e1022" stroke-width="1"/>
<circle cx="147.5" cy="210.6" r="2.45" fill="#ee7d87" stroke="#8e1022" stroke-width="1"/>
<circle cx="140.6" cy="217.5" r="2.45" fill="#ee7d87" stroke="#8e1022" stroke-width="1"/>
<circle cx="145.5" cy="220.5" r="2.45" fill="#ee7d87" stroke="#8e1022" stroke-width="1"/>
<circle cx="147.5" cy="225.4" r="2.45" fill="#ee7d87" stroke="#8e1022" stroke-width="1"/>
<circle cx="142.6" cy="228.4" r="2.45" fill="#ee7d87" stroke="#8e1022" stroke-width="1"/>
<line x1="145" y1="203.6" x2="145" y2="228" stroke="#222" stroke-width="1" shape-rendering="crispEdges"/>
<line x1="143.4" y1="203.6" x2="146.6" y2="203.6" stroke="#222" stroke-width="1" shape-rendering="crispEdges"/>
<line x1="143.4" y1="228" x2="146.6" y2="228" stroke="#222" stroke-width="1" shape-rendering="crispEdges"/>
<line x1="141.6" y1="215.4" x2="148.4" y2="215.4" stroke="#222" stroke-width="1" shape-rendering="crispEdges"/>
<circle cx="136.8" cy="195" r="1.3" fill="#111"/>
<circle cx="141.6" cy="195" r="1.3" fill="#111"/>
<circle cx="146.4" cy="195" r="1.3" fill="#111"/>
<circle cx="151.2" cy="195" r="1.3" fill="#111"/>
<polygon points="155.4,207.92 157.8,212.24 153,212.24" fill="#111" stroke="none" stroke-width="0"/>
<polygon points="160.3,210.92 162.7,215.24 157.9,215.24" fill="#111" stroke="none" stroke-width="0"/>
<polygon points="162.3,214.82 164.7,219.14 159.9,219.14" fill="#111" stroke="none" stroke-width="0"/>
<polygon points="158.4,219.82 160.8,224.14 156,224.14" fill="#111" stroke="none" stroke-width="0"/>
<polygon points="159.3,238.52 161.7,242.84 156.9,242.84" fill="#111" stroke="none" stroke-width="0"/>
<polygon points="159.3,241.52 161.7,245.84 156.9,245.84" fill="#111" stroke="none" stroke-width="0"/>
<polygon points="159.3,250.32 161.7,254.64 156.9,254.64" fill="#111" stroke="none" stroke-width="0"/>
<line x1="159.3" y1="213.6" x2="159.3" y2="244" stroke="#222" stroke-width="1" shape-rendering="crispEdges"/>
<line x1="157.7" y1="213.6" x2="160.9" y2="213.6" stroke="#222" stroke-width="1" shape-rendering="crispEdges"/>
<line x1="157.7" y1="244" x2="160.9" y2="244" stroke="#222" stroke-width="1" shape-rendering="crispEdges"/>
<line x1="155.7" y1="230.4" x2="162.9" y2="230.4" stroke="#222" stroke-width="1" shape-rendering="crispEdges"/>
<circle cx="166.6" cy="196.1" r="2.45" fill="#ee7d87" stroke="#8e1022" stroke-width="1"/>
<circle cx="171.6" cy="195.2" r="2.45" fill="#ee7d87" stroke="#8e1022" stroke-width="1"/>
<circle cx="164.1" cy="203.5" r="2.45" fill="#ee7d87" stroke="#8e1022" stroke-width="1"/>
<circle cx="169.9" cy="205.2" r="2.45" fill="#ee7d87" stroke="#8e1022" stroke-width="1"/>
<circle cx="166.6" cy="215.7" r="2.45" fill="#ee7d87" stroke="#8e1022" stroke-width="1"/>
<circle cx="171.9" cy="215.4" r="2.45" fill="#ee7d87" stroke="#8e1022" stroke-width="1"/>
<line x1="169" y1="195.6" x2="169" y2="215.5" stroke="#222" stroke-width="1" shape-rendering="crispEdges"/>
<line x1="167.4" y1="195.6" x2="170.6" y2="195.6" stroke="#222" stroke-width="1" shape-rendering="crispEdges"/>
<line x1="167.4" y1="215.5" x2="170.6" y2="215.5" stroke="#222" stroke-width="1" shape-rendering="crispEdges"/>
<line x1="165.8" y1="205" x2="172.2" y2="205" stroke="#222" stroke-width="1" shape-rendering="crispEdges"/>
<circle cx="164.6" cy="187.8" r="1.3" fill="#111"/>
<circle cx="169.4" cy="187.8" r="1.3" fill="#111"/>
<circle cx="174.2" cy="187.8" r="1.3" fill="#111"/>
<text x="182" y="179" font-size="11.4" text-anchor="start" fill="#111" font-weight="bold" stroke="#111" stroke-width="0.22">C</text>
<line x1="212.5" y1="189" x2="212.5" y2="288.1" stroke="#111" stroke-width="1.1" shape-rendering="crispEdges"/>
<line x1="209.3" y1="287.6" x2="212.5" y2="287.6" stroke="#111" stroke-width="1" shape-rendering="crispEdges"/>
<text x="209.1" y="290.55" font-size="8.2" text-anchor="end" fill="#111" stroke="#111" stroke-width="0.15">20</text>
<line x1="209.3" y1="263.05" x2="212.5" y2="263.05" stroke="#111" stroke-width="1" shape-rendering="crispEdges"/>
<text x="209.1" y="266" font-size="8.2" text-anchor="end" fill="#111" stroke="#111" stroke-width="0.15">40</text>
<line x1="209.3" y1="238.5" x2="212.5" y2="238.5" stroke="#111" stroke-width="1" shape-rendering="crispEdges"/>
<text x="209.1" y="241.45" font-size="8.2" text-anchor="end" fill="#111" stroke="#111" stroke-width="0.15">60</text>
<line x1="209.3" y1="213.95" x2="212.5" y2="213.95" stroke="#111" stroke-width="1" shape-rendering="crispEdges"/>
<text x="209.1" y="216.9" font-size="8.2" text-anchor="end" fill="#111" stroke="#111" stroke-width="0.15">80</text>
<line x1="209.3" y1="189.4" x2="212.5" y2="189.4" stroke="#111" stroke-width="1" shape-rendering="crispEdges"/>
<text x="209.1" y="192.35" font-size="8.2" text-anchor="end" fill="#111" stroke="#111" stroke-width="0.15">100</text>
<line x1="212" y1="287.6" x2="350" y2="287.6" stroke="#111" stroke-width="1.1" shape-rendering="crispEdges"/>
<line x1="219.6" y1="287.6" x2="219.6" y2="290" stroke="#111" stroke-width="1" shape-rendering="crispEdges"/>
<text x="221.9" y="297" font-size="8.3" text-anchor="end" fill="#111" stroke="#111" stroke-width="0.15" transform="rotate(-45 221.9 297)">0</text>
<line x1="235.03" y1="287.6" x2="235.03" y2="290" stroke="#111" stroke-width="1" shape-rendering="crispEdges"/>
<text x="237.33" y="297" font-size="8.3" text-anchor="end" fill="#111" stroke="#111" stroke-width="0.15" transform="rotate(-45 237.33 297)">0.01</text>
<line x1="250.46" y1="287.6" x2="250.46" y2="290" stroke="#111" stroke-width="1" shape-rendering="crispEdges"/>
<text x="252.76" y="297" font-size="8.3" text-anchor="end" fill="#111" stroke="#111" stroke-width="0.15" transform="rotate(-45 252.76 297)">0.05</text>
<line x1="265.89" y1="287.6" x2="265.89" y2="290" stroke="#111" stroke-width="1" shape-rendering="crispEdges"/>
<text x="268.19" y="297" font-size="8.3" text-anchor="end" fill="#111" stroke="#111" stroke-width="0.15" transform="rotate(-45 268.19 297)">0.25</text>
<line x1="281.32" y1="287.6" x2="281.32" y2="290" stroke="#111" stroke-width="1" shape-rendering="crispEdges"/>
<text x="283.62" y="297" font-size="8.3" text-anchor="end" fill="#111" stroke="#111" stroke-width="0.15" transform="rotate(-45 283.62 297)">1.25</text>
<line x1="296.75" y1="287.6" x2="296.75" y2="290" stroke="#111" stroke-width="1" shape-rendering="crispEdges"/>
<text x="299.05" y="297" font-size="8.3" text-anchor="end" fill="#111" stroke="#111" stroke-width="0.15" transform="rotate(-45 299.05 297)">5</text>
<line x1="312.18" y1="287.6" x2="312.18" y2="290" stroke="#111" stroke-width="1" shape-rendering="crispEdges"/>
<text x="314.48" y="297" font-size="8.3" text-anchor="end" fill="#111" stroke="#111" stroke-width="0.15" transform="rotate(-45 314.48 297)">10</text>
<line x1="327.61" y1="287.6" x2="327.61" y2="290" stroke="#111" stroke-width="1" shape-rendering="crispEdges"/>
<text x="329.91" y="297" font-size="8.3" text-anchor="end" fill="#111" stroke="#111" stroke-width="0.15" transform="rotate(-45 329.91 297)">15</text>
<line x1="343.04" y1="287.6" x2="343.04" y2="290" stroke="#111" stroke-width="1" shape-rendering="crispEdges"/>
<text x="345.34" y="297" font-size="8.3" text-anchor="end" fill="#111" stroke="#111" stroke-width="0.15" transform="rotate(-45 345.34 297)">20</text>
<text x="280.8" y="320" font-size="8.25" text-anchor="middle" fill="#111" stroke="#111" stroke-width="0.15">Rapa (ug/ml)</text>
<text x="187" y="237.6" font-size="8.1" text-anchor="middle" fill="#111" stroke="#111" stroke-width="0.15" transform="rotate(-90 187 237.6)">% EGFP</text>
<polygon points="217.3,254.04 219.5,258 215.1,258" fill="#111" stroke="none" stroke-width="0"/>
<polygon points="222.8,252.84 225,256.8 220.6,256.8" fill="#111" stroke="none" stroke-width="0"/>
<polygon points="217.2,264.74 219.4,268.7 215,268.7" fill="#111" stroke="none" stroke-width="0"/>
<polygon points="222.4,265.54 224.6,269.5 220.2,269.5" fill="#111" stroke="none" stroke-width="0"/>
<polygon points="217,269.94 219.2,273.9 214.8,273.9" fill="#111" stroke="none" stroke-width="0"/>
<polygon points="222.8,269.94 225,273.9 220.6,273.9" fill="#111" stroke="none" stroke-width="0"/>
<polygon points="218.8,272.54 221,276.5 216.6,276.5" fill="#111" stroke="none" stroke-width="0"/>
<polygon points="222,273.54 224.2,277.5 219.8,277.5" fill="#111" stroke="none" stroke-width="0"/>
<line x1="220" y1="261.2" x2="220" y2="271" stroke="#222" stroke-width="1" shape-rendering="crispEdges"/>
<line x1="217.4" y1="261.2" x2="222.6" y2="261.2" stroke="#222" stroke-width="1" shape-rendering="crispEdges"/>
<line x1="217.4" y1="271" x2="222.6" y2="271" stroke="#222" stroke-width="1" shape-rendering="crispEdges"/>
<circle cx="219" cy="276" r="1.6" fill="#111" stroke="#111" stroke-width="0.4"/>
<circle cx="222" cy="275.2" r="1.6" fill="#111" stroke="#111" stroke-width="0.4"/>
<circle cx="232.4" cy="257.4" r="2.45" fill="#ee7d87" stroke="#8e1022" stroke-width="1"/>
<circle cx="238" cy="254.6" r="2.45" fill="#ee7d87" stroke="#8e1022" stroke-width="1"/>
<circle cx="248.2" cy="266.6" r="2.45" fill="#ee7d87" stroke="#8e1022" stroke-width="1"/>
<circle cx="253" cy="263.6" r="2.45" fill="#ee7d87" stroke="#8e1022" stroke-width="1"/>
<circle cx="263.6" cy="260.7" r="2.45" fill="#ee7d87" stroke="#8e1022" stroke-width="1"/>
<circle cx="269" cy="260.1" r="2.45" fill="#ee7d87" stroke="#8e1022" stroke-width="1"/>
<circle cx="278.5" cy="257.9" r="2.45" fill="#ee7d87" stroke="#8e1022" stroke-width="1"/>
<circle cx="283.7" cy="252.9" r="2.45" fill="#ee7d87" stroke="#8e1022" stroke-width="1"/>
<line x1="277.4" y1="255.5" x2="285.2" y2="255.5" stroke="#222" stroke-width="1" shape-rendering="crispEdges"/>
<circle cx="294.4" cy="246.5" r="2.45" fill="#ee7d87" stroke="#8e1022" stroke-width="1"/>
<circle cx="299.1" cy="250.8" r="2.45" fill="#ee7d87" stroke="#8e1022" stroke-width="1"/>
<circle cx="300.3" cy="263.6" r="2.45" fill="#ee7d87" stroke="#8e1022" stroke-width="1"/>
<circle cx="293.2" cy="267.8" r="2.45" fill="#ee7d87" stroke="#8e1022" stroke-width="1"/>
<circle cx="297.9" cy="269" r="2.45" fill="#ee7d87" stroke="#8e1022" stroke-width="1"/>
<circle cx="295.6" cy="268.4" r="2.45" fill="#ee7d87" stroke="#8e1022" stroke-width="1"/>
<line x1="296.6" y1="250.8" x2="296.6" y2="268.6" stroke="#222" stroke-width="1" shape-rendering="crispEdges"/>
<line x1="294.4" y1="250.8" x2="298.8" y2="250.8" stroke="#222" stroke-width="1" shape-rendering="crispEdges"/>
<line x1="294.4" y1="268.6" x2="298.8" y2="268.6" stroke="#222" stroke-width="1" shape-rendering="crispEdges"/>
<line x1="293" y1="261.2" x2="300.2" y2="261.2" stroke="#222" stroke-width="1" shape-rendering="crispEdges"/>
<circle cx="309.3" cy="225.9" r="2.45" fill="#ee7d87" stroke="#8e1022" stroke-width="1"/>
<circle cx="316.9" cy="230.1" r="2.45" fill="#ee7d87" stroke="#8e1022" stroke-width="1"/>
<circle cx="314.5" cy="233.5" r="2.45" fill="#ee7d87" stroke="#8e1022" stroke-width="1"/>
<circle cx="308.6" cy="237" r="2.45" fill="#ee7d87" stroke="#8e1022" stroke-width="1"/>
<circle cx="309.8" cy="241.8" r="2.45" fill="#ee7d87" stroke="#8e1022" stroke-width="1"/>
<circle cx="312.6" cy="244.2" r="2.45" fill="#ee7d87" stroke="#8e1022" stroke-width="1"/>
<circle cx="315.7" cy="244.2" r="2.45" fill="#ee7d87" stroke="#8e1022" stroke-width="1"/>
<circle cx="314.5" cy="257.2" r="2.45" fill="#ee7d87" stroke="#8e1022" stroke-width="1"/>
<circle cx="309.3" cy="262" r="2.45" fill="#ee7d87" stroke="#8e1022" stroke-width="1"/>
<line x1="312.1" y1="230.4" x2="312.1" y2="253.2" stroke="#222" stroke-width="1" shape-rendering="crispEdges"/>
<line x1="309.7" y1="230.4" x2="314.5" y2="230.4" stroke="#222" stroke-width="1" shape-rendering="crispEdges"/>
<line x1="309.7" y1="253.2" x2="314.5" y2="253.2" stroke="#222" stroke-width="1" shape-rendering="crispEdges"/>
<line x1="308.5" y1="242.2" x2="315.7" y2="242.2" stroke="#222" stroke-width="1" shape-rendering="crispEdges"/>
<circle cx="306.25" cy="220.5" r="1.2" fill="#111"/>
<circle cx="310.35" cy="220.5" r="1.2" fill="#111"/>
<circle cx="314.45" cy="220.5" r="1.2" fill="#111"/>
<circle cx="318.55" cy="220.5" r="1.2" fill="#111"/>
<circle cx="324.5" cy="225.9" r="2.45" fill="#ee7d87" stroke="#8e1022" stroke-width="1"/>
<circle cx="329.9" cy="228.2" r="2.45" fill="#ee7d87" stroke="#8e1022" stroke-width="1"/>
<circle cx="325.2" cy="245.8" r="2.45" fill="#ee7d87" stroke="#8e1022" stroke-width="1"/>
<circle cx="330.4" cy="243" r="2.45" fill="#ee7d87" stroke="#8e1022" stroke-width="1"/>
<line x1="327.5" y1="226.4" x2="327.5" y2="245.4" stroke="#222" stroke-width="1" shape-rendering="crispEdges"/>
<line x1="325.3" y1="226.4" x2="329.7" y2="226.4" stroke="#222" stroke-width="1" shape-rendering="crispEdges"/>
<line x1="325.3" y1="245.4" x2="329.7" y2="245.4" stroke="#222" stroke-width="1" shape-rendering="crispEdges"/>
<line x1="323.7" y1="235.8" x2="331.3" y2="235.8" stroke="#222" stroke-width="1" shape-rendering="crispEdges"/>
<circle cx="324.4" cy="213.4" r="1.2" fill="#111"/>
<circle cx="328.5" cy="213.4" r="1.2" fill="#111"/>
<circle cx="332.6" cy="213.4" r="1.2" fill="#111"/>
<circle cx="340.6" cy="214.5" r="2.45" fill="#ee7d87" stroke="#8e1022" stroke-width="1"/>
<circle cx="344.1" cy="214" r="2.45" fill="#ee7d87" stroke="#8e1022" stroke-width="1"/>
<circle cx="341.8" cy="218" r="2.45" fill="#ee7d87" stroke="#8e1022" stroke-width="1"/>
<circle cx="343.2" cy="218.8" r="2.45" fill="#ee7d87" stroke="#8e1022" stroke-width="1"/>
<circle cx="342.5" cy="227" r="2.45" fill="#ee7d87" stroke="#8e1022" stroke-width="1"/>
<line x1="342.8" y1="214.5" x2="342.8" y2="221" stroke="#222" stroke-width="1" shape-rendering="crispEdges"/>
<line x1="340.8" y1="214.5" x2="344.8" y2="214.5" stroke="#222" stroke-width="1" shape-rendering="crispEdges"/>
<line x1="340.8" y1="221" x2="344.8" y2="221" stroke="#222" stroke-width="1" shape-rendering="crispEdges"/>
<line x1="339.2" y1="217.4" x2="346.4" y2="217.4" stroke="#222" stroke-width="1" shape-rendering="crispEdges"/>
<circle cx="337.15" cy="204.1" r="1.2" fill="#111"/>
<circle cx="341.25" cy="204.1" r="1.2" fill="#111"/>
<circle cx="345.35" cy="204.1" r="1.2" fill="#111"/>
<circle cx="349.45" cy="204.1" r="1.2" fill="#111"/>
<text x="356.2" y="179.8" font-size="11.4" text-anchor="start" fill="#111" font-weight="bold" stroke="#111" stroke-width="0.22">D</text>
<line x1="387.6" y1="191.6" x2="387.6" y2="287.3" stroke="#111" stroke-width="1.1" shape-rendering="crispEdges"/>
<line x1="384.8" y1="286.8" x2="387.6" y2="286.8" stroke="#111" stroke-width="1" shape-rendering="crispEdges"/>
<text x="384.3" y="289.9" font-size="8.6" text-anchor="end" fill="#111" stroke="#111" stroke-width="0.15">0</text>
<line x1="384.8" y1="255.2" x2="387.6" y2="255.2" stroke="#111" stroke-width="1" shape-rendering="crispEdges"/>
<text x="384.3" y="258.3" font-size="8.6" text-anchor="end" fill="#111" stroke="#111" stroke-width="0.15">20</text>
<line x1="384.8" y1="223.6" x2="387.6" y2="223.6" stroke="#111" stroke-width="1" shape-rendering="crispEdges"/>
<text x="384.3" y="226.7" font-size="8.6" text-anchor="end" fill="#111" stroke="#111" stroke-width="0.15">40</text>
<line x1="384.8" y1="192" x2="387.6" y2="192" stroke="#111" stroke-width="1" shape-rendering="crispEdges"/>
<text x="384.3" y="195.1" font-size="8.6" text-anchor="end" fill="#111" stroke="#111" stroke-width="0.15">60</text>
<line x1="387.1" y1="286.8" x2="515" y2="286.8" stroke="#111" stroke-width="1.1" shape-rendering="crispEdges"/>
<line x1="396.7" y1="286.8" x2="396.7" y2="289.2" stroke="#111" stroke-width="1" shape-rendering="crispEdges"/>
<text x="398.5" y="296.8" font-size="8.3" text-anchor="end" fill="#111" stroke="#111" stroke-width="0.15" transform="rotate(-45 398.5 296.8)">0</text>
<line x1="415.5" y1="286.8" x2="415.5" y2="289.2" stroke="#111" stroke-width="1" shape-rendering="crispEdges"/>
<text x="417.3" y="296.8" font-size="8.3" text-anchor="end" fill="#111" stroke="#111" stroke-width="0.15" transform="rotate(-45 417.3 296.8)">0.01</text>
<line x1="434.3" y1="286.8" x2="434.3" y2="289.2" stroke="#111" stroke-width="1" shape-rendering="crispEdges"/>
<text x="436.1" y="296.8" font-size="8.3" text-anchor="end" fill="#111" stroke="#111" stroke-width="0.15" transform="rotate(-45 436.1 296.8)">0.05</text>
<line x1="453.1" y1="286.8" x2="453.1" y2="289.2" stroke="#111" stroke-width="1" shape-rendering="crispEdges"/>
<text x="454.9" y="296.8" font-size="8.3" text-anchor="end" fill="#111" stroke="#111" stroke-width="0.15" transform="rotate(-45 454.9 296.8)">0.25</text>
<line x1="471.9" y1="286.8" x2="471.9" y2="289.2" stroke="#111" stroke-width="1" shape-rendering="crispEdges"/>
<text x="473.7" y="296.8" font-size="8.3" text-anchor="end" fill="#111" stroke="#111" stroke-width="0.15" transform="rotate(-45 473.7 296.8)">1.25</text>
<line x1="490.7" y1="286.8" x2="490.7" y2="289.2" stroke="#111" stroke-width="1" shape-rendering="crispEdges"/>
<text x="492.5" y="296.8" font-size="8.3" text-anchor="end" fill="#111" stroke="#111" stroke-width="0.15" transform="rotate(-45 492.5 296.8)">5</text>
<line x1="509.5" y1="286.8" x2="509.5" y2="289.2" stroke="#111" stroke-width="1" shape-rendering="crispEdges"/>
<text x="511.3" y="296.8" font-size="8.3" text-anchor="end" fill="#111" stroke="#111" stroke-width="0.15" transform="rotate(-45 511.3 296.8)">10</text>
<text x="453.6" y="322.9" font-size="8.3" text-anchor="middle" fill="#111" stroke="#111" stroke-width="0.15">Torin 1 (uM)</text>
<text x="364" y="238.8" font-size="8.4" text-anchor="middle" fill="#111" stroke="#111" stroke-width="0.15" transform="rotate(-90 364 238.8)">% EGFP</text>
<polyline points="396.7,248.3 417.4,249.4 436.3,251.2 455,257.6 473.7,259 492.5,222.1 509.5,214.8" fill="none" stroke="#111" stroke-width="1.5" stroke-linejoin="round"/>
<polygon points="396.7,245.57 399.15,249.98 394.25,249.98" fill="#111" stroke="none" stroke-width="0"/>
<polygon points="415.4,246.47 417.85,250.88 412.95,250.88" fill="#111" stroke="none" stroke-width="0"/>
<polygon points="419.3,246.47 421.75,250.88 416.85,250.88" fill="#111" stroke="none" stroke-width="0"/>
<polygon points="434.3,248.77 436.75,253.18 431.85,253.18" fill="#111" stroke="none" stroke-width="0"/>
<polygon points="438.3,248.17 440.75,252.58 435.85,252.58" fill="#111" stroke="none" stroke-width="0"/>
<polygon points="453,256.27 455.45,260.68 450.55,260.68" fill="#111" stroke="none" stroke-width="0"/>
<polygon points="457.2,253.07 459.65,257.48 454.75,257.48" fill="#111" stroke="none" stroke-width="0"/>
<polygon points="471.6,256.27 474.05,260.68 469.15,260.68" fill="#111" stroke="none" stroke-width="0"/>
<polygon points="475.9,256.27 478.35,260.68 473.45,260.68" fill="#111" stroke="none" stroke-width="0"/>
<polygon points="490.6,219.37 493.05,223.78 488.15,223.78" fill="#111" stroke="none" stroke-width="0"/>
<polygon points="494.5,219.37 496.95,223.78 492.05,223.78" fill="#111" stroke="none" stroke-width="0"/>
<polygon points="509.5,207.97 511.95,212.38 507.05,212.38" fill="#111" stroke="none" stroke-width="0"/>
<polygon points="509.5,216.77 511.95,221.18 507.05,221.18" fill="#111" stroke="none" stroke-width="0"/>
<text x="52.6" y="345.2" font-size="11.4" text-anchor="start" fill="#111" font-weight="bold" stroke="#111" stroke-width="0.22">E</text>
<text x="107.4" y="344.6" font-size="10.1" text-anchor="start" fill="#111" stroke="#111" stroke-width="0.15">hu CD34<tspan dy="-4.4" font-size="7.2">+</tspan><tspan dy="4.4"> cells</tspan></text>
<line x1="85" y1="353.4" x2="85" y2="440.5" stroke="#111" stroke-width="1.1" shape-rendering="crispEdges"/>
<line x1="82.4" y1="440" x2="85" y2="440" stroke="#111" stroke-width="1" shape-rendering="crispEdges"/>
<text x="82.1" y="443.02" font-size="8.4" text-anchor="end" fill="#111" stroke="#111" stroke-width="0.15">60</text>
<line x1="82.4" y1="418.45" x2="85" y2="418.45" stroke="#111" stroke-width="1" shape-rendering="crispEdges"/>
<text x="82.1" y="421.47" font-size="8.4" text-anchor="end" fill="#111" stroke="#111" stroke-width="0.15">80</text>
<line x1="82.4" y1="396.9" x2="85" y2="396.9" stroke="#111" stroke-width="1" shape-rendering="crispEdges"/>
<text x="82.1" y="399.92" font-size="8.4" text-anchor="end" fill="#111" stroke="#111" stroke-width="0.15">100</text>
<line x1="82.4" y1="375.35" x2="85" y2="375.35" stroke="#111" stroke-width="1" shape-rendering="crispEdges"/>
<text x="82.1" y="378.37" font-size="8.4" text-anchor="end" fill="#111" stroke="#111" stroke-width="0.15">120</text>
<line x1="82.4" y1="353.8" x2="85" y2="353.8" stroke="#111" stroke-width="1" shape-rendering="crispEdges"/>
<text x="82.1" y="356.82" font-size="8.4" text-anchor="end" fill="#111" stroke="#111" stroke-width="0.15">140</text>
<line x1="84.5" y1="440" x2="213.8" y2="440" stroke="#111" stroke-width="1.1" shape-rendering="crispEdges"/>
<line x1="92.5" y1="440" x2="92.5" y2="442.4" stroke="#111" stroke-width="1" shape-rendering="crispEdges"/>
<text x="94.4" y="450.2" font-size="8.3" text-anchor="end" fill="#111" stroke="#111" stroke-width="0.15" transform="rotate(-45 94.4 450.2)">0</text>
<line x1="106.8" y1="440" x2="106.8" y2="442.4" stroke="#111" stroke-width="1" shape-rendering="crispEdges"/>
<text x="108.7" y="450.2" font-size="8.3" text-anchor="end" fill="#111" stroke="#111" stroke-width="0.15" transform="rotate(-45 108.7 450.2)">0.01</text>
<line x1="121.1" y1="440" x2="121.1" y2="442.4" stroke="#111" stroke-width="1" shape-rendering="crispEdges"/>
<text x="123" y="450.2" font-size="8.3" text-anchor="end" fill="#111" stroke="#111" stroke-width="0.15" transform="rotate(-45 123 450.2)">0.05</text>
<line x1="135.4" y1="440" x2="135.4" y2="442.4" stroke="#111" stroke-width="1" shape-rendering="crispEdges"/>
<text x="137.3" y="450.2" font-size="8.3" text-anchor="end" fill="#111" stroke="#111" stroke-width="0.15" transform="rotate(-45 137.3 450.2)">0.25</text>
<line x1="149.7" y1="440" x2="149.7" y2="442.4" stroke="#111" stroke-width="1" shape-rendering="crispEdges"/>
<text x="151.6" y="450.2" font-size="8.3" text-anchor="end" fill="#111" stroke="#111" stroke-width="0.15" transform="rotate(-45 151.6 450.2)">1.25</text>
<line x1="164" y1="440" x2="164" y2="442.4" stroke="#111" stroke-width="1" shape-rendering="crispEdges"/>
<text x="165.9" y="450.2" font-size="8.3" text-anchor="end" fill="#111" stroke="#111" stroke-width="0.15" transform="rotate(-45 165.9 450.2)">5</text>
<line x1="178.3" y1="440" x2="178.3" y2="442.4" stroke="#111" stroke-width="1" shape-rendering="crispEdges"/>
<text x="180.2" y="450.2" font-size="8.3" text-anchor="end" fill="#111" stroke="#111" stroke-width="0.15" transform="rotate(-45 180.2 450.2)">10</text>
<line x1="192.6" y1="440" x2="192.6" y2="442.4" stroke="#111" stroke-width="1" shape-rendering="crispEdges"/>
<text x="194.5" y="450.2" font-size="8.3" text-anchor="end" fill="#111" stroke="#111" stroke-width="0.15" transform="rotate(-45 194.5 450.2)">15</text>
<line x1="206.9" y1="440" x2="206.9" y2="442.4" stroke="#111" stroke-width="1" shape-rendering="crispEdges"/>
<text x="208.8" y="450.2" font-size="8.3" text-anchor="end" fill="#111" stroke="#111" stroke-width="0.15" transform="rotate(-45 208.8 450.2)">20</text>
<text x="150" y="473" font-size="8.25" text-anchor="middle" fill="#111" stroke="#111" stroke-width="0.15">Rapa (ug/ml)</text>
<text x="61" y="396.7" font-size="8.5" text-anchor="middle" fill="#111" stroke="#111" stroke-width="0.15" transform="rotate(-90 61 396.7)">MFI</text>
<polyline points="92.5,403.2 107,398.2 121.3,416.2 137.3,414.6 151.3,401.3 163.8,395.8 178.3,380 192.5,372.5 208.8,363.8" fill="none" stroke="#111" stroke-width="1.5" stroke-linejoin="round"/>
<circle cx="92.5" cy="397.5" r="2.45" fill="#ee7d87" stroke="#8e1022" stroke-width="1"/>
<circle cx="92.5" cy="408.8" r="2.45" fill="#ee7d87" stroke="#8e1022" stroke-width="1"/>
<circle cx="107" cy="389.5" r="2.45" fill="#ee7d87" stroke="#8e1022" stroke-width="1"/>
<circle cx="107" cy="407" r="2.45" fill="#ee7d87" stroke="#8e1022" stroke-width="1"/>
<circle cx="121.3" cy="417.5" r="2.45" fill="#ee7d87" stroke="#8e1022" stroke-width="1"/>
<circle cx="124.5" cy="415" r="2.45" fill="#ee7d87" stroke="#8e1022" stroke-width="1"/>
<circle cx="135.8" cy="414.5" r="2.45" fill="#ee7d87" stroke="#8e1022" stroke-width="1"/>
<circle cx="138.8" cy="414.5" r="2.45" fill="#ee7d87" stroke="#8e1022" stroke-width="1"/>
<circle cx="149.5" cy="405" r="2.45" fill="#ee7d87" stroke="#8e1022" stroke-width="1"/>
<circle cx="152.5" cy="399.3" r="2.45" fill="#ee7d87" stroke="#8e1022" stroke-width="1"/>
<circle cx="163.8" cy="388.3" r="2.45" fill="#ee7d87" stroke="#8e1022" stroke-width="1"/>
<circle cx="163.8" cy="403" r="2.45" fill="#ee7d87" stroke="#8e1022" stroke-width="1"/>
<circle cx="178.3" cy="374.5" r="2.45" fill="#ee7d87" stroke="#8e1022" stroke-width="1"/>
<circle cx="178.3" cy="386.3" r="2.45" fill="#ee7d87" stroke="#8e1022" stroke-width="1"/>
<circle cx="192.5" cy="367" r="2.45" fill="#ee7d87" stroke="#8e1022" stroke-width="1"/>
<circle cx="192.5" cy="377.5" r="2.45" fill="#ee7d87" stroke="#8e1022" stroke-width="1"/>
<circle cx="206.8" cy="365.8" r="2.45" fill="#ee7d87" stroke="#8e1022" stroke-width="1"/>
<circle cx="210.5" cy="361.8" r="2.45" fill="#ee7d87" stroke="#8e1022" stroke-width="1"/>
<text x="275.6" y="342.3" font-size="11.4" text-anchor="start" fill="#111" font-weight="bold" stroke="#111" stroke-width="0.22">F</text>
<line x1="313" y1="355.6" x2="313" y2="440.1" stroke="#111" stroke-width="1.1" shape-rendering="crispEdges"/>
<line x1="310.6" y1="439.6" x2="313" y2="439.6" stroke="#111" stroke-width="1" shape-rendering="crispEdges"/>
<text x="309.9" y="442.48" font-size="8" text-anchor="end" fill="#111" stroke="#111" stroke-width="0.15">0.5</text>
<line x1="310.6" y1="418.7" x2="313" y2="418.7" stroke="#111" stroke-width="1" shape-rendering="crispEdges"/>
<text x="309.9" y="421.58" font-size="8" text-anchor="end" fill="#111" stroke="#111" stroke-width="0.15">1</text>
<line x1="310.6" y1="397.8" x2="313" y2="397.8" stroke="#111" stroke-width="1" shape-rendering="crispEdges"/>
<text x="309.9" y="400.68" font-size="8" text-anchor="end" fill="#111" stroke="#111" stroke-width="0.15">2</text>
<line x1="310.6" y1="376.9" x2="313" y2="376.9" stroke="#111" stroke-width="1" shape-rendering="crispEdges"/>
<text x="309.9" y="379.78" font-size="8" text-anchor="end" fill="#111" stroke="#111" stroke-width="0.15">4</text>
<line x1="310.6" y1="356" x2="313" y2="356" stroke="#111" stroke-width="1" shape-rendering="crispEdges"/>
<text x="309.9" y="358.88" font-size="8" text-anchor="end" fill="#111" stroke="#111" stroke-width="0.15">8</text>
<line x1="312.5" y1="439.6" x2="438.6" y2="439.6" stroke="#111" stroke-width="1.1" shape-rendering="crispEdges"/>
<line x1="329.1" y1="439.6" x2="329.1" y2="441.8" stroke="#111" stroke-width="1" shape-rendering="crispEdges"/>
<text x="329.1" y="451.2" font-size="7.9" text-anchor="middle" fill="#111" stroke="#111" stroke-width="0.15">0</text>
<line x1="359.7" y1="439.6" x2="359.7" y2="441.8" stroke="#111" stroke-width="1" shape-rendering="crispEdges"/>
<text x="359.7" y="451.2" font-size="7.9" text-anchor="middle" fill="#111" stroke="#111" stroke-width="0.15">1.25</text>
<line x1="390.9" y1="439.6" x2="390.9" y2="441.8" stroke="#111" stroke-width="1" shape-rendering="crispEdges"/>
<text x="390.9" y="451.2" font-size="7.9" text-anchor="middle" fill="#111" stroke="#111" stroke-width="0.15">5</text>
<line x1="422.9" y1="439.6" x2="422.9" y2="441.8" stroke="#111" stroke-width="1" shape-rendering="crispEdges"/>
<text x="422.9" y="451.2" font-size="7.9" text-anchor="middle" fill="#111" stroke="#111" stroke-width="0.15">10</text>
<text x="376.2" y="463" font-size="7.8" text-anchor="middle" fill="#111" stroke="#111" stroke-width="0.15">Rapa (ug/ml)</text>
<text x="284.1" y="396" font-size="7.9" text-anchor="middle" fill="#111" stroke="#111" stroke-width="0.15" transform="rotate(-90 284.1 396)">LV copy number</text>
<text x="292" y="394.9" font-size="7.9" text-anchor="middle" fill="#111" stroke="#111" stroke-width="0.15" transform="rotate(-90 292 394.9)">Fold change over control</text>
<line x1="328.5" y1="360.2" x2="421.8" y2="360.2" stroke="#111" stroke-width="1" shape-rendering="crispEdges"/>
<line x1="328.5" y1="357.9" x2="328.5" y2="362.6" stroke="#111" stroke-width="1" shape-rendering="crispEdges"/>
<line x1="421.8" y1="357.9" x2="421.8" y2="362.6" stroke="#111" stroke-width="1" shape-rendering="crispEdges"/>
<circle cx="374.2" cy="354.4" r="1" fill="#111"/>
<polygon points="320.6,418.8 322.6,416.8 324.6,418.8 322.6,420.8" fill="#111" stroke="none" stroke-width="0"/>
<polygon points="322.6,418.8 324.6,416.8 326.6,418.8 324.6,420.8" fill="#111" stroke="none" stroke-width="0"/>
<polygon points="324.6,418.8 326.6,416.8 328.6,418.8 326.6,420.8" fill="#111" stroke="none" stroke-width="0"/>
<polygon points="326.6,418.8 328.6,416.8 330.6,418.8 328.6,420.8" fill="#111" stroke="none" stroke-width="0"/>
<polygon points="328.6,418.8 330.6,416.8 332.6,418.8 330.6,420.8" fill="#111" stroke="none" stroke-width="0"/>
<polygon points="330.6,418.8 332.6,416.8 334.6,418.8 332.6,420.8" fill="#111" stroke="none" stroke-width="0"/>
<polygon points="332.6,418.8 334.6,416.8 336.6,418.8 334.6,420.8" fill="#111" stroke="none" stroke-width="0"/>
<line x1="321" y1="418.8" x2="337" y2="418.8" stroke="#111" stroke-width="1" shape-rendering="crispEdges"/>
<circle cx="360.2" cy="407.7" r="2.3" fill="#ee7d87" stroke="#8e1022" stroke-width="1"/>
<circle cx="363.1" cy="423.1" r="2.3" fill="#ee7d87" stroke="#8e1022" stroke-width="1"/>
<circle cx="357.3" cy="427.3" r="2.3" fill="#ee7d87" stroke="#8e1022" stroke-width="1"/>
<line x1="360.2" y1="409.2" x2="360.2" y2="431.3" stroke="#222" stroke-width="1" shape-rendering="crispEdges"/>
<line x1="356.2" y1="409.2" x2="364.2" y2="409.2" stroke="#222" stroke-width="1" shape-rendering="crispEdges"/>
<line x1="356.2" y1="431.3" x2="364.2" y2="431.3" stroke="#222" stroke-width="1" shape-rendering="crispEdges"/>
<line x1="352.5" y1="418.3" x2="367.9" y2="418.3" stroke="#222" stroke-width="1" shape-rendering="crispEdges"/>
<circle cx="388.7" cy="402.3" r="2.3" fill="#ee7d87" stroke="#8e1022" stroke-width="1"/>
<circle cx="394.8" cy="397.7" r="2.3" fill="#ee7d87" stroke="#8e1022" stroke-width="1"/>
<line x1="384.2" y1="400.4" x2="398.7" y2="400.4" stroke="#222" stroke-width="1" shape-rendering="crispEdges"/>
<circle cx="426" cy="368.3" r="2.3" fill="#ee7d87" stroke="#8e1022" stroke-width="1"/>
<circle cx="419.4" cy="369.6" r="2.3" fill="#8e1c2c" stroke="#6a0f1c" stroke-width="0.8"/>
<circle cx="419.4" cy="406.3" r="2.3" fill="#ee7d87" stroke="#8e1022" stroke-width="1"/>
<circle cx="426" cy="405.4" r="2.3" fill="#ee7d87" stroke="#8e1022" stroke-width="1"/>
<circle cx="422.7" cy="400" r="2.3" fill="#8e1c2c" stroke="#6a0f1c" stroke-width="0.8"/>
<line x1="422.7" y1="369.2" x2="422.7" y2="415.4" stroke="#222" stroke-width="1" shape-rendering="crispEdges"/>
<line x1="418.5" y1="369.2" x2="426.9" y2="369.2" stroke="#222" stroke-width="1" shape-rendering="crispEdges"/>
<line x1="418.5" y1="415.4" x2="426.9" y2="415.4" stroke="#222" stroke-width="1" shape-rendering="crispEdges"/>
<line x1="415" y1="384.6" x2="430.4" y2="384.6" stroke="#222" stroke-width="1" shape-rendering="crispEdges"/>
<text x="52.6" y="497.1" font-size="11.4" text-anchor="start" fill="#111" font-weight="bold" stroke="#111" stroke-width="0.22">G</text>
<text x="107.6" y="496.4" font-size="9.85" text-anchor="start" fill="#111" stroke="#111" stroke-width="0.15">mu BM Lin<tspan dy="-4.2" font-size="7">-</tspan><tspan dy="4.2"> cells</tspan></text>
<line x1="84.5" y1="511.75" x2="84.5" y2="603.9" stroke="#111" stroke-width="1.1" shape-rendering="crispEdges"/>
<line x1="82.1" y1="603.4" x2="84.5" y2="603.4" stroke="#111" stroke-width="1" shape-rendering="crispEdges"/>
<text x="81.3" y="606.64" font-size="9" text-anchor="end" fill="#111" stroke="#111" stroke-width="0.15">0</text>
<line x1="82.1" y1="585.15" x2="84.5" y2="585.15" stroke="#111" stroke-width="1" shape-rendering="crispEdges"/>
<text x="81.3" y="588.39" font-size="9" text-anchor="end" fill="#111" stroke="#111" stroke-width="0.15">20</text>
<line x1="82.1" y1="566.9" x2="84.5" y2="566.9" stroke="#111" stroke-width="1" shape-rendering="crispEdges"/>
<text x="81.3" y="570.14" font-size="9" text-anchor="end" fill="#111" stroke="#111" stroke-width="0.15">40</text>
<line x1="82.1" y1="548.65" x2="84.5" y2="548.65" stroke="#111" stroke-width="1" shape-rendering="crispEdges"/>
<text x="81.3" y="551.89" font-size="9" text-anchor="end" fill="#111" stroke="#111" stroke-width="0.15">60</text>
<line x1="82.1" y1="530.4" x2="84.5" y2="530.4" stroke="#111" stroke-width="1" shape-rendering="crispEdges"/>
<text x="81.3" y="533.64" font-size="9" text-anchor="end" fill="#111" stroke="#111" stroke-width="0.15">80</text>
<line x1="82.1" y1="512.15" x2="84.5" y2="512.15" stroke="#111" stroke-width="1" shape-rendering="crispEdges"/>
<text x="81.3" y="515.39" font-size="9" text-anchor="end" fill="#111" stroke="#111" stroke-width="0.15">100</text>
<line x1="84" y1="603.4" x2="222.9" y2="603.4" stroke="#111" stroke-width="1.1" shape-rendering="crispEdges"/>
<line x1="91.8" y1="603.4" x2="91.8" y2="605.6" stroke="#111" stroke-width="1" shape-rendering="crispEdges"/>
<line x1="107.4" y1="603.4" x2="107.4" y2="605.6" stroke="#111" stroke-width="1" shape-rendering="crispEdges"/>
<line x1="122.8" y1="603.4" x2="122.8" y2="605.6" stroke="#111" stroke-width="1" shape-rendering="crispEdges"/>
<line x1="138.6" y1="603.4" x2="138.6" y2="605.6" stroke="#111" stroke-width="1" shape-rendering="crispEdges"/>
<line x1="154.2" y1="603.4" x2="154.2" y2="605.6" stroke="#111" stroke-width="1" shape-rendering="crispEdges"/>
<line x1="169.8" y1="603.4" x2="169.8" y2="605.6" stroke="#111" stroke-width="1" shape-rendering="crispEdges"/>
<line x1="185.2" y1="603.4" x2="185.2" y2="605.6" stroke="#111" stroke-width="1" shape-rendering="crispEdges"/>
<line x1="200.5" y1="603.4" x2="200.5" y2="605.6" stroke="#111" stroke-width="1" shape-rendering="crispEdges"/>
<line x1="215.6" y1="603.4" x2="215.6" y2="605.6" stroke="#111" stroke-width="1" shape-rendering="crispEdges"/>
<line x1="131.2" y1="507.8" x2="131.2" y2="603.4" stroke="#111" stroke-width="1" shape-rendering="crispEdges"/>
<line x1="177.9" y1="507.8" x2="177.9" y2="603.4" stroke="#111" stroke-width="1" shape-rendering="crispEdges"/>
<text x="57.4" y="556" font-size="9" text-anchor="middle" fill="#111" stroke="#111" stroke-width="0.15" transform="rotate(-90 57.4 556)">% EGFP</text>
<text x="84" y="616" font-size="8" text-anchor="end" fill="#111" stroke="#111" stroke-width="0.15">Rapa (ug/ml)</text>
<text x="91.8" y="614.4" font-size="8.4" text-anchor="middle" fill="#111" stroke="#111" stroke-width="0.15">-</text>
<text x="107.4" y="616.4" font-size="8.4" text-anchor="middle" fill="#111" stroke="#111" stroke-width="0.15">1</text>
<text x="122.8" y="616.4" font-size="8.4" text-anchor="middle" fill="#111" stroke="#111" stroke-width="0.15">5</text>
<text x="138.6" y="614.4" font-size="8.4" text-anchor="middle" fill="#111" stroke="#111" stroke-width="0.15">-</text>
<text x="154.2" y="616.4" font-size="8.4" text-anchor="middle" fill="#111" stroke="#111" stroke-width="0.15">1</text>
<text x="169.8" y="616.4" font-size="8.4" text-anchor="middle" fill="#111" stroke="#111" stroke-width="0.15">5</text>
<text x="185.2" y="614.4" font-size="8.4" text-anchor="middle" fill="#111" stroke="#111" stroke-width="0.15">-</text>
<text x="200.5" y="616.4" font-size="8.4" text-anchor="middle" fill="#111" stroke="#111" stroke-width="0.15">1</text>
<text x="215.6" y="616.4" font-size="8.4" text-anchor="middle" fill="#111" stroke="#111" stroke-width="0.15">5</text>
<line x1="87.7" y1="620.6" x2="126.2" y2="620.6" stroke="#111" stroke-width="1" shape-rendering="crispEdges"/>
<text x="108.6" y="631.4" font-size="8.4" text-anchor="middle" fill="#111" stroke="#111" stroke-width="0.15">0.5</text>
<line x1="134" y1="620.6" x2="172.6" y2="620.6" stroke="#111" stroke-width="1" shape-rendering="crispEdges"/>
<text x="155.8" y="631.4" font-size="8.4" text-anchor="middle" fill="#111" stroke="#111" stroke-width="0.15">1.0</text>
<line x1="180.8" y1="620.6" x2="219.2" y2="620.6" stroke="#111" stroke-width="1" shape-rendering="crispEdges"/>
<text x="201.4" y="631.4" font-size="8.4" text-anchor="middle" fill="#111" stroke="#111" stroke-width="0.15">2.5</text>
<text x="67" y="631.2" font-size="8.2" text-anchor="middle" fill="#111" stroke="#111" stroke-width="0.15">MOI</text>
<line x1="90.4" y1="548.4" x2="107" y2="548.4" stroke="#111" stroke-width="1" shape-rendering="crispEdges"/>
<circle cx="96.4" cy="544.2" r="1.2" fill="#111"/>
<circle cx="101" cy="544.2" r="1.2" fill="#111"/>
<line x1="90.4" y1="540" x2="123.5" y2="540" stroke="#111" stroke-width="1" shape-rendering="crispEdges"/>
<circle cx="100.05" cy="535.8" r="1.2" fill="#111"/>
<circle cx="104.65" cy="535.8" r="1.2" fill="#111"/>
<circle cx="109.25" cy="535.8" r="1.2" fill="#111"/>
<circle cx="113.85" cy="535.8" r="1.2" fill="#111"/>
<line x1="136.7" y1="522" x2="152.9" y2="522" stroke="#111" stroke-width="1" shape-rendering="crispEdges"/>
<circle cx="142.5" cy="517.8" r="1.2" fill="#111"/>
<circle cx="147.1" cy="517.8" r="1.2" fill="#111"/>
<line x1="136.7" y1="513.6" x2="169.8" y2="513.6" stroke="#111" stroke-width="1" shape-rendering="crispEdges"/>
<circle cx="153.25" cy="509.4" r="1.2" fill="#111"/>
<line x1="182.5" y1="517.7" x2="198.7" y2="517.7" stroke="#111" stroke-width="1" shape-rendering="crispEdges"/>
<circle cx="190.6" cy="513.5" r="1.2" fill="#111"/>
<line x1="182.5" y1="507.8" x2="215.6" y2="507.8" stroke="#111" stroke-width="1" shape-rendering="crispEdges"/>
<circle cx="194.45" cy="503.6" r="1.2" fill="#111"/>
<circle cx="199.05" cy="503.6" r="1.2" fill="#111"/>
<circle cx="203.65" cy="503.6" r="1.2" fill="#111"/>
<polygon points="88.6,580.23 90.9,584.37 86.3,584.37" fill="#111" stroke="none" stroke-width="0"/>
<polygon points="91.6,584.03 93.9,588.17 89.3,588.17" fill="#111" stroke="none" stroke-width="0"/>
<polygon points="95.6,583.43 97.9,587.57 93.3,587.57" fill="#111" stroke="none" stroke-width="0"/>
<polygon points="96.8,586.03 99.1,590.17 94.5,590.17" fill="#111" stroke="none" stroke-width="0"/>
<polygon points="92.4,587.83 94.7,591.97 90.1,591.97" fill="#111" stroke="none" stroke-width="0"/>
<polygon points="93.2,590.43 95.5,594.57 90.9,594.57" fill="#111" stroke="none" stroke-width="0"/>
<polygon points="92,592.83 94.3,596.97 89.7,596.97" fill="#111" stroke="none" stroke-width="0"/>
<polygon points="93.4,594.63 95.7,598.77 91.1,598.77" fill="#111" stroke="none" stroke-width="0"/>
<line x1="92.6" y1="586" x2="92.6" y2="595" stroke="#222" stroke-width="1" shape-rendering="crispEdges"/>
<line x1="91.2" y1="586" x2="94" y2="586" stroke="#222" stroke-width="1" shape-rendering="crispEdges"/>
<line x1="91.2" y1="595" x2="94" y2="595" stroke="#222" stroke-width="1" shape-rendering="crispEdges"/>
<line x1="90.2" y1="590.2" x2="95" y2="590.2" stroke="#222" stroke-width="1" shape-rendering="crispEdges"/>
<circle cx="107.5" cy="561.3" r="2.45" fill="#fff" stroke="#b01a2c" stroke-width="1.1"/>
<circle cx="107.5" cy="567.8" r="2.45" fill="#fff" stroke="#b01a2c" stroke-width="1.1"/>
<circle cx="107" cy="579.2" r="2.45" fill="#fff" stroke="#b01a2c" stroke-width="1.1"/>
<circle cx="107.5" cy="581.7" r="2.45" fill="#fff" stroke="#b01a2c" stroke-width="1.1"/>
<circle cx="106.3" cy="585.2" r="2.45" fill="#fff" stroke="#b01a2c" stroke-width="1.1"/>
<circle cx="108.2" cy="587" r="2.45" fill="#fff" stroke="#b01a2c" stroke-width="1.1"/>
<circle cx="107" cy="588.7" r="2.45" fill="#fff" stroke="#b01a2c" stroke-width="1.1"/>
<circle cx="107" cy="590.4" r="2.45" fill="#fff" stroke="#b01a2c" stroke-width="1.1"/>
<line x1="107.5" y1="567.8" x2="107.5" y2="591" stroke="#222" stroke-width="1" shape-rendering="crispEdges"/>
<line x1="106" y1="567.8" x2="109" y2="567.8" stroke="#222" stroke-width="1" shape-rendering="crispEdges"/>
<line x1="106" y1="591" x2="109" y2="591" stroke="#222" stroke-width="1" shape-rendering="crispEdges"/>
<line x1="104.7" y1="581.7" x2="110.3" y2="581.7" stroke="#222" stroke-width="1" shape-rendering="crispEdges"/>
<circle cx="123.1" cy="544.3" r="2.4" fill="#d6303f" stroke="#7e0e1c" stroke-width="0.9"/>
<circle cx="123.1" cy="560" r="2.4" fill="#d6303f" stroke="#7e0e1c" stroke-width="0.9"/>
<circle cx="123.1" cy="562.6" r="2.4" fill="#d6303f" stroke="#7e0e1c" stroke-width="0.9"/>
<circle cx="121.7" cy="566.1" r="2.4" fill="#d6303f" stroke="#7e0e1c" stroke-width="0.9"/>
<circle cx="123.1" cy="569.6" r="2.4" fill="#d6303f" stroke="#7e0e1c" stroke-width="0.9"/>
<circle cx="126" cy="574.8" r="2.4" fill="#d6303f" stroke="#7e0e1c" stroke-width="0.9"/>
<circle cx="119.1" cy="579.1" r="2.4" fill="#d6303f" stroke="#7e0e1c" stroke-width="0.9"/>
<circle cx="122.6" cy="581.7" r="2.4" fill="#d6303f" stroke="#7e0e1c" stroke-width="0.9"/>
<circle cx="120.9" cy="580" r="2.4" fill="#d6303f" stroke="#7e0e1c" stroke-width="0.9"/>
<circle cx="123.1" cy="582.6" r="2.4" fill="#d6303f" stroke="#7e0e1c" stroke-width="0.9"/>
<line x1="123.1" y1="560" x2="123.1" y2="583" stroke="#222" stroke-width="1" shape-rendering="crispEdges"/>
<line x1="121.6" y1="560" x2="124.6" y2="560" stroke="#222" stroke-width="1" shape-rendering="crispEdges"/>
<line x1="121.6" y1="583" x2="124.6" y2="583" stroke="#222" stroke-width="1" shape-rendering="crispEdges"/>
<line x1="120.3" y1="569" x2="125.9" y2="569" stroke="#222" stroke-width="1" shape-rendering="crispEdges"/>
<polygon points="138.6,540.74 140.8,544.7 136.4,544.7" fill="#111" stroke="none" stroke-width="0"/>
<polygon points="134.8,553.14 137,557.1 132.6,557.1" fill="#111" stroke="none" stroke-width="0"/>
<polygon points="139.4,553.74 141.6,557.7 137.2,557.7" fill="#111" stroke="none" stroke-width="0"/>
<polygon points="140.8,560.44 143,564.4 138.6,564.4" fill="#111" stroke="none" stroke-width="0"/>
<polygon points="136.7,563.94 138.9,567.9 134.5,567.9" fill="#111" stroke="none" stroke-width="0"/>
<polygon points="140.2,565.84 142.4,569.8 138,569.8" fill="#111" stroke="none" stroke-width="0"/>
<polygon points="134,569.34 136.2,573.3 131.8,573.3" fill="#111" stroke="none" stroke-width="0"/>
<polygon points="139.4,570.44 141.6,574.4 137.2,574.4" fill="#111" stroke="none" stroke-width="0"/>
<polygon points="134,575.24 136.2,579.2 131.8,579.2" fill="#111" stroke="none" stroke-width="0"/>
<polygon points="140.2,576.54 142.4,580.5 138,580.5" fill="#111" stroke="none" stroke-width="0"/>
<polygon points="138.6,593.54 140.8,597.5 136.4,597.5" fill="#111" stroke="none" stroke-width="0"/>
<line x1="137.4" y1="553.6" x2="137.4" y2="580.4" stroke="#222" stroke-width="1" shape-rendering="crispEdges"/>
<line x1="135.9" y1="553.6" x2="138.9" y2="553.6" stroke="#222" stroke-width="1" shape-rendering="crispEdges"/>
<line x1="135.9" y1="580.4" x2="138.9" y2="580.4" stroke="#222" stroke-width="1" shape-rendering="crispEdges"/>
<line x1="134.6" y1="566.4" x2="140.2" y2="566.4" stroke="#222" stroke-width="1" shape-rendering="crispEdges"/>
<circle cx="154.2" cy="527.9" r="2.45" fill="#fff" stroke="#b01a2c" stroke-width="1.1"/>
<circle cx="153.7" cy="534.6" r="2.45" fill="#fff" stroke="#b01a2c" stroke-width="1.1"/>
<circle cx="155.6" cy="537.3" r="2.45" fill="#fff" stroke="#b01a2c" stroke-width="1.1"/>
<circle cx="156.9" cy="542.7" r="2.45" fill="#fff" stroke="#b01a2c" stroke-width="1.1"/>
<circle cx="151.5" cy="548.1" r="2.45" fill="#fff" stroke="#b01a2c" stroke-width="1.1"/>
<circle cx="156.9" cy="549.4" r="2.45" fill="#fff" stroke="#b01a2c" stroke-width="1.1"/>
<circle cx="154.2" cy="557.5" r="2.45" fill="#fff" stroke="#b01a2c" stroke-width="1.1"/>
<circle cx="155.6" cy="560.2" r="2.45" fill="#fff" stroke="#b01a2c" stroke-width="1.1"/>
<circle cx="152.9" cy="571" r="2.45" fill="#fff" stroke="#b01a2c" stroke-width="1.1"/>
<circle cx="154.2" cy="573.7" r="2.45" fill="#fff" stroke="#b01a2c" stroke-width="1.1"/>
<circle cx="154.2" cy="577.7" r="2.45" fill="#fff" stroke="#b01a2c" stroke-width="1.1"/>
<circle cx="152.9" cy="579.1" r="2.45" fill="#fff" stroke="#b01a2c" stroke-width="1.1"/>
<line x1="154.2" y1="534.1" x2="154.2" y2="576.4" stroke="#222" stroke-width="1" shape-rendering="crispEdges"/>
<line x1="152.7" y1="534.1" x2="155.7" y2="534.1" stroke="#222" stroke-width="1" shape-rendering="crispEdges"/>
<line x1="152.7" y1="576.4" x2="155.7" y2="576.4" stroke="#222" stroke-width="1" shape-rendering="crispEdges"/>
<line x1="151.4" y1="553" x2="157" y2="553" stroke="#222" stroke-width="1" shape-rendering="crispEdges"/>
<circle cx="166.9" cy="525.2" r="2.4" fill="#d6303f" stroke="#7e0e1c" stroke-width="0.9"/>
<circle cx="171.7" cy="525.2" r="2.4" fill="#d6303f" stroke="#7e0e1c" stroke-width="0.9"/>
<circle cx="169.8" cy="534.6" r="2.4" fill="#d6303f" stroke="#7e0e1c" stroke-width="0.9"/>
<circle cx="169" cy="540" r="2.4" fill="#d6303f" stroke="#7e0e1c" stroke-width="0.9"/>
<circle cx="169" cy="544" r="2.4" fill="#d6303f" stroke="#7e0e1c" stroke-width="0.9"/>
<circle cx="170.4" cy="550.8" r="2.4" fill="#d6303f" stroke="#7e0e1c" stroke-width="0.9"/>
<circle cx="169.8" cy="556.2" r="2.4" fill="#d6303f" stroke="#7e0e1c" stroke-width="0.9"/>
<circle cx="169" cy="561.5" r="2.4" fill="#d6303f" stroke="#7e0e1c" stroke-width="0.9"/>
<circle cx="169.8" cy="568.3" r="2.4" fill="#d6303f" stroke="#7e0e1c" stroke-width="0.9"/>
<circle cx="169.8" cy="576.4" r="2.4" fill="#d6303f" stroke="#7e0e1c" stroke-width="0.9"/>
<circle cx="169" cy="586.6" r="2.4" fill="#d6303f" stroke="#7e0e1c" stroke-width="0.9"/>
<line x1="169.8" y1="531.9" x2="169.8" y2="569.6" stroke="#222" stroke-width="1" shape-rendering="crispEdges"/>
<line x1="168.3" y1="531.9" x2="171.3" y2="531.9" stroke="#222" stroke-width="1" shape-rendering="crispEdges"/>
<line x1="168.3" y1="569.6" x2="171.3" y2="569.6" stroke="#222" stroke-width="1" shape-rendering="crispEdges"/>
<line x1="167" y1="550.8" x2="172.6" y2="550.8" stroke="#222" stroke-width="1" shape-rendering="crispEdges"/>
<polygon points="182.6,524.34 184.8,528.3 180.4,528.3" fill="#111" stroke="none" stroke-width="0"/>
<polygon points="186.6,524.34 188.8,528.3 184.4,528.3" fill="#111" stroke="none" stroke-width="0"/>
<polygon points="184,528.14 186.2,532.1 181.8,532.1" fill="#111" stroke="none" stroke-width="0"/>
<polygon points="186.6,532.14 188.8,536.1 184.4,536.1" fill="#111" stroke="none" stroke-width="0"/>
<polygon points="185.2,538.94 187.4,542.9 183,542.9" fill="#111" stroke="none" stroke-width="0"/>
<polygon points="187.9,542.94 190.1,546.9 185.7,546.9" fill="#111" stroke="none" stroke-width="0"/>
<polygon points="183.9,552.34 186.1,556.3 181.7,556.3" fill="#111" stroke="none" stroke-width="0"/>
<polygon points="185.2,580.14 187.4,584.1 183,584.1" fill="#111" stroke="none" stroke-width="0"/>
<polygon points="185.2,586.84 187.4,590.8 183,590.8" fill="#111" stroke="none" stroke-width="0"/>
<line x1="185.2" y1="526.5" x2="185.2" y2="568.3" stroke="#222" stroke-width="1" shape-rendering="crispEdges"/>
<line x1="183.7" y1="526.5" x2="186.7" y2="526.5" stroke="#222" stroke-width="1" shape-rendering="crispEdges"/>
<line x1="183.7" y1="568.3" x2="186.7" y2="568.3" stroke="#222" stroke-width="1" shape-rendering="crispEdges"/>
<line x1="182.4" y1="546.7" x2="188" y2="546.7" stroke="#222" stroke-width="1" shape-rendering="crispEdges"/>
<circle cx="199.5" cy="522.5" r="2.45" fill="#fff" stroke="#b01a2c" stroke-width="1.1"/>
<circle cx="196" cy="527.9" r="2.45" fill="#fff" stroke="#b01a2c" stroke-width="1.1"/>
<circle cx="202.2" cy="527.9" r="2.45" fill="#fff" stroke="#b01a2c" stroke-width="1.1"/>
<circle cx="200.5" cy="531.9" r="2.45" fill="#fff" stroke="#b01a2c" stroke-width="1.1"/>
<circle cx="198.7" cy="534.6" r="2.45" fill="#fff" stroke="#b01a2c" stroke-width="1.1"/>
<circle cx="202.7" cy="533.3" r="2.45" fill="#fff" stroke="#b01a2c" stroke-width="1.1"/>
<circle cx="202.2" cy="544" r="2.45" fill="#fff" stroke="#b01a2c" stroke-width="1.1"/>
<circle cx="197.3" cy="548.1" r="2.45" fill="#fff" stroke="#b01a2c" stroke-width="1.1"/>
<line x1="200.5" y1="526.5" x2="200.5" y2="541.4" stroke="#222" stroke-width="1" shape-rendering="crispEdges"/>
<line x1="199" y1="526.5" x2="202" y2="526.5" stroke="#222" stroke-width="1" shape-rendering="crispEdges"/>
<line x1="199" y1="541.4" x2="202" y2="541.4" stroke="#222" stroke-width="1" shape-rendering="crispEdges"/>
<line x1="197.7" y1="532" x2="203.3" y2="532" stroke="#222" stroke-width="1" shape-rendering="crispEdges"/>
<circle cx="215.6" cy="515.2" r="2.4" fill="#d6303f" stroke="#7e0e1c" stroke-width="0.9"/>
<circle cx="215.6" cy="518.5" r="2.4" fill="#d6303f" stroke="#7e0e1c" stroke-width="0.9"/>
<circle cx="215.6" cy="522.5" r="2.4" fill="#d6303f" stroke="#7e0e1c" stroke-width="0.9"/>
<circle cx="215.6" cy="526.5" r="2.4" fill="#d6303f" stroke="#7e0e1c" stroke-width="0.9"/>
<circle cx="215.6" cy="530.6" r="2.4" fill="#d6303f" stroke="#7e0e1c" stroke-width="0.9"/>
<circle cx="215.6" cy="533.3" r="2.4" fill="#d6303f" stroke="#7e0e1c" stroke-width="0.9"/>
<circle cx="215.6" cy="566.4" r="2.4" fill="#d6303f" stroke="#7e0e1c" stroke-width="0.9"/>
<circle cx="215.6" cy="578.5" r="2.4" fill="#d6303f" stroke="#7e0e1c" stroke-width="0.9"/>
<line x1="215.6" y1="514.4" x2="215.6" y2="554" stroke="#222" stroke-width="1" shape-rendering="crispEdges"/>
<line x1="214.1" y1="514.4" x2="217.1" y2="514.4" stroke="#222" stroke-width="1" shape-rendering="crispEdges"/>
<line x1="214.1" y1="554" x2="217.1" y2="554" stroke="#222" stroke-width="1" shape-rendering="crispEdges"/>
<line x1="212.8" y1="533.8" x2="218.4" y2="533.8" stroke="#222" stroke-width="1" shape-rendering="crispEdges"/>
<text x="281" y="497.4" font-size="11.4" text-anchor="start" fill="#111" font-weight="bold" stroke="#111" stroke-width="0.22">H</text>
<line x1="313.3" y1="507.3" x2="313.3" y2="603.8" stroke="#111" stroke-width="1.1" shape-rendering="crispEdges"/>
<line x1="310.9" y1="603.3" x2="313.3" y2="603.3" stroke="#111" stroke-width="1" shape-rendering="crispEdges"/>
<text x="310.1" y="606.54" font-size="9" text-anchor="end" fill="#111" stroke="#111" stroke-width="0.15">0</text>
<line x1="310.9" y1="571.43" x2="313.3" y2="571.43" stroke="#111" stroke-width="1" shape-rendering="crispEdges"/>
<text x="310.1" y="574.67" font-size="9" text-anchor="end" fill="#111" stroke="#111" stroke-width="0.15">2</text>
<line x1="310.9" y1="539.57" x2="313.3" y2="539.57" stroke="#111" stroke-width="1" shape-rendering="crispEdges"/>
<text x="310.1" y="542.81" font-size="9" text-anchor="end" fill="#111" stroke="#111" stroke-width="0.15">4</text>
<line x1="310.9" y1="507.7" x2="313.3" y2="507.7" stroke="#111" stroke-width="1" shape-rendering="crispEdges"/>
<text x="310.1" y="510.94" font-size="9" text-anchor="end" fill="#111" stroke="#111" stroke-width="0.15">6</text>
<line x1="312.8" y1="603.3" x2="458.1" y2="603.3" stroke="#111" stroke-width="1.1" shape-rendering="crispEdges"/>
<line x1="321.9" y1="603.3" x2="321.9" y2="605.5" stroke="#111" stroke-width="1" shape-rendering="crispEdges"/>
<line x1="337.5" y1="603.3" x2="337.5" y2="605.5" stroke="#111" stroke-width="1" shape-rendering="crispEdges"/>
<line x1="353.7" y1="603.3" x2="353.7" y2="605.5" stroke="#111" stroke-width="1" shape-rendering="crispEdges"/>
<line x1="369" y1="603.3" x2="369" y2="605.5" stroke="#111" stroke-width="1" shape-rendering="crispEdges"/>
<line x1="385.2" y1="603.3" x2="385.2" y2="605.5" stroke="#111" stroke-width="1" shape-rendering="crispEdges"/>
<line x1="401.5" y1="603.3" x2="401.5" y2="605.5" stroke="#111" stroke-width="1" shape-rendering="crispEdges"/>
<line x1="417.7" y1="603.3" x2="417.7" y2="605.5" stroke="#111" stroke-width="1" shape-rendering="crispEdges"/>
<line x1="433.3" y1="603.3" x2="433.3" y2="605.5" stroke="#111" stroke-width="1" shape-rendering="crispEdges"/>
<line x1="450" y1="603.3" x2="450" y2="605.5" stroke="#111" stroke-width="1" shape-rendering="crispEdges"/>
<line x1="361" y1="515.8" x2="361" y2="603.3" stroke="#111" stroke-width="1" shape-rendering="crispEdges"/>
<line x1="409.6" y1="515.8" x2="409.6" y2="603.3" stroke="#111" stroke-width="1" shape-rendering="crispEdges"/>
<text x="290.3" y="553.4" font-size="8.3" text-anchor="middle" fill="#111" stroke="#111" stroke-width="0.15" transform="rotate(-90 290.3 553.4)">LV copy number</text>
<text x="299.6" y="554.2" font-size="8.3" text-anchor="middle" fill="#111" stroke="#111" stroke-width="0.15" transform="rotate(-90 299.6 554.2)">Fold change over control</text>
<text x="321.9" y="614.4" font-size="8.4" text-anchor="middle" fill="#111" stroke="#111" stroke-width="0.15">-</text>
<text x="337.5" y="616.4" font-size="8.4" text-anchor="middle" fill="#111" stroke="#111" stroke-width="0.15">1</text>
<text x="353.7" y="616.4" font-size="8.4" text-anchor="middle" fill="#111" stroke="#111" stroke-width="0.15">5</text>
<text x="369" y="614.4" font-size="8.4" text-anchor="middle" fill="#111" stroke="#111" stroke-width="0.15">-</text>
<text x="385.2" y="616.4" font-size="8.4" text-anchor="middle" fill="#111" stroke="#111" stroke-width="0.15">1</text>
<text x="401.5" y="616.4" font-size="8.4" text-anchor="middle" fill="#111" stroke="#111" stroke-width="0.15">5</text>
<text x="417.7" y="614.4" font-size="8.4" text-anchor="middle" fill="#111" stroke="#111" stroke-width="0.15">-</text>
<text x="433.3" y="616.4" font-size="8.4" text-anchor="middle" fill="#111" stroke="#111" stroke-width="0.15">1</text>
<text x="450" y="616.4" font-size="8.4" text-anchor="middle" fill="#111" stroke="#111" stroke-width="0.15">5</text>
<line x1="318.5" y1="620.4" x2="353.8" y2="620.4" stroke="#111" stroke-width="1" shape-rendering="crispEdges"/>
<text x="336.6" y="631.2" font-size="8.4" text-anchor="middle" fill="#111" stroke="#111" stroke-width="0.15">0.5</text>
<line x1="366.8" y1="620.4" x2="404.6" y2="620.4" stroke="#111" stroke-width="1" shape-rendering="crispEdges"/>
<text x="386.4" y="631.2" font-size="8.4" text-anchor="middle" fill="#111" stroke="#111" stroke-width="0.15">1.0</text>
<line x1="416.3" y1="620.4" x2="452.3" y2="620.4" stroke="#111" stroke-width="1" shape-rendering="crispEdges"/>
<text x="435.2" y="631.2" font-size="8.4" text-anchor="middle" fill="#111" stroke="#111" stroke-width="0.15">2.5</text>
<line x1="316.5" y1="553.5" x2="330.5" y2="553.5" stroke="#111" stroke-width="1" shape-rendering="crispEdges"/>
<circle cx="323.5" cy="549.3" r="1.2" fill="#111"/>
<line x1="319.8" y1="540" x2="350.2" y2="540" stroke="#111" stroke-width="1" shape-rendering="crispEdges"/>
<circle cx="332.7" cy="535.8" r="1.2" fill="#111"/>
<circle cx="337.3" cy="535.8" r="1.2" fill="#111"/>
<line x1="363.7" y1="534" x2="378.5" y2="534" stroke="#111" stroke-width="1" shape-rendering="crispEdges"/>
<circle cx="371.1" cy="529.8" r="1.2" fill="#111"/>
<line x1="365" y1="522.5" x2="396" y2="522.5" stroke="#111" stroke-width="1" shape-rendering="crispEdges"/>
<circle cx="378.2" cy="518.3" r="1.2" fill="#111"/>
<circle cx="382.8" cy="518.3" r="1.2" fill="#111"/>
<line x1="415" y1="548" x2="429.8" y2="548" stroke="#111" stroke-width="1" shape-rendering="crispEdges"/>
<circle cx="420.1" cy="543.8" r="1.2" fill="#111"/>
<circle cx="424.7" cy="543.8" r="1.2" fill="#111"/>
<line x1="415" y1="539.5" x2="446" y2="539.5" stroke="#111" stroke-width="1" shape-rendering="crispEdges"/>
<circle cx="428.2" cy="535.3" r="1.2" fill="#111"/>
<circle cx="432.8" cy="535.3" r="1.2" fill="#111"/>
<polygon points="319.2,585.36 321.3,589.14 317.1,589.14" fill="#111" stroke="none" stroke-width="0"/>
<polygon points="321.6,585.36 323.7,589.14 319.5,589.14" fill="#111" stroke="none" stroke-width="0"/>
<polygon points="324,585.36 326.1,589.14 321.9,589.14" fill="#111" stroke="none" stroke-width="0"/>
<line x1="318.1" y1="587.6" x2="325.1" y2="587.6" stroke="#111" stroke-width="1" shape-rendering="crispEdges"/>
<polygon points="366.6,585.36 368.7,589.14 364.5,589.14" fill="#111" stroke="none" stroke-width="0"/>
<polygon points="369,585.36 371.1,589.14 366.9,589.14" fill="#111" stroke="none" stroke-width="0"/>
<polygon points="371.4,585.36 373.5,589.14 369.3,589.14" fill="#111" stroke="none" stroke-width="0"/>
<line x1="365.5" y1="587.6" x2="372.5" y2="587.6" stroke="#111" stroke-width="1" shape-rendering="crispEdges"/>
<polygon points="416.1,585.36 418.2,589.14 414,589.14" fill="#111" stroke="none" stroke-width="0"/>
<polygon points="417.7,585.36 419.8,589.14 415.6,589.14" fill="#111" stroke="none" stroke-width="0"/>
<polygon points="419.3,585.36 421.4,589.14 417.2,589.14" fill="#111" stroke="none" stroke-width="0"/>
<line x1="414.2" y1="587.6" x2="421.2" y2="587.6" stroke="#111" stroke-width="1" shape-rendering="crispEdges"/>
<circle cx="337.3" cy="551.3" r="2.45" fill="#fff" stroke="#b01a2c" stroke-width="1.1"/>
<circle cx="334" cy="561.5" r="2.45" fill="#fff" stroke="#b01a2c" stroke-width="1.1"/>
<circle cx="339.4" cy="567" r="2.45" fill="#fff" stroke="#b01a2c" stroke-width="1.1"/>
<circle cx="335.4" cy="571" r="2.45" fill="#fff" stroke="#b01a2c" stroke-width="1.1"/>
<circle cx="338.1" cy="575" r="2.45" fill="#fff" stroke="#b01a2c" stroke-width="1.1"/>
<circle cx="335.4" cy="579.1" r="2.45" fill="#fff" stroke="#b01a2c" stroke-width="1.1"/>
<circle cx="339.4" cy="583.1" r="2.45" fill="#fff" stroke="#b01a2c" stroke-width="1.1"/>
<circle cx="336.7" cy="585.8" r="2.45" fill="#fff" stroke="#b01a2c" stroke-width="1.1"/>
<circle cx="338.1" cy="588.5" r="2.45" fill="#fff" stroke="#b01a2c" stroke-width="1.1"/>
<circle cx="336.7" cy="589.8" r="2.45" fill="#fff" stroke="#b01a2c" stroke-width="1.1"/>
<line x1="338.1" y1="565.6" x2="338.1" y2="588.5" stroke="#222" stroke-width="1" shape-rendering="crispEdges"/>
<line x1="336.6" y1="565.6" x2="339.6" y2="565.6" stroke="#222" stroke-width="1" shape-rendering="crispEdges"/>
<line x1="336.6" y1="588.5" x2="339.6" y2="588.5" stroke="#222" stroke-width="1" shape-rendering="crispEdges"/>
<line x1="335.3" y1="576.4" x2="340.9" y2="576.4" stroke="#222" stroke-width="1" shape-rendering="crispEdges"/>
<circle cx="353.7" cy="514.4" r="2.4" fill="#d6303f" stroke="#7e0e1c" stroke-width="0.9"/>
<circle cx="353.7" cy="548.6" r="2.4" fill="#d6303f" stroke="#7e0e1c" stroke-width="0.9"/>
<circle cx="350.2" cy="562.9" r="2.4" fill="#d6303f" stroke="#7e0e1c" stroke-width="0.9"/>
<circle cx="356.4" cy="562.9" r="2.4" fill="#d6303f" stroke="#7e0e1c" stroke-width="0.9"/>
<circle cx="350.2" cy="567" r="2.4" fill="#d6303f" stroke="#7e0e1c" stroke-width="0.9"/>
<circle cx="354.2" cy="570.2" r="2.4" fill="#d6303f" stroke="#7e0e1c" stroke-width="0.9"/>
<circle cx="356.4" cy="570.2" r="2.4" fill="#d6303f" stroke="#7e0e1c" stroke-width="0.9"/>
<circle cx="353.7" cy="580.4" r="2.4" fill="#d6303f" stroke="#7e0e1c" stroke-width="0.9"/>
<circle cx="353.7" cy="583.1" r="2.4" fill="#d6303f" stroke="#7e0e1c" stroke-width="0.9"/>
<circle cx="353.7" cy="587.1" r="2.4" fill="#d6303f" stroke="#7e0e1c" stroke-width="0.9"/>
<circle cx="352.9" cy="587.7" r="2.4" fill="#d6303f" stroke="#7e0e1c" stroke-width="0.9"/>
<line x1="353.7" y1="547.8" x2="353.7" y2="587.5" stroke="#222" stroke-width="1" shape-rendering="crispEdges"/>
<line x1="352.2" y1="547.8" x2="355.2" y2="547.8" stroke="#222" stroke-width="1" shape-rendering="crispEdges"/>
<line x1="352.2" y1="587.5" x2="355.2" y2="587.5" stroke="#222" stroke-width="1" shape-rendering="crispEdges"/>
<line x1="350.9" y1="567" x2="356.5" y2="567" stroke="#222" stroke-width="1" shape-rendering="crispEdges"/>
<circle cx="385.2" cy="528.7" r="2.45" fill="#fff" stroke="#b01a2c" stroke-width="1.1"/>
<circle cx="385.2" cy="537.3" r="2.45" fill="#fff" stroke="#b01a2c" stroke-width="1.1"/>
<circle cx="385.2" cy="545.4" r="2.45" fill="#fff" stroke="#b01a2c" stroke-width="1.1"/>
<circle cx="382.5" cy="565.6" r="2.45" fill="#fff" stroke="#b01a2c" stroke-width="1.1"/>
<circle cx="387.1" cy="567" r="2.45" fill="#fff" stroke="#b01a2c" stroke-width="1.1"/>
<circle cx="382.5" cy="579" r="2.45" fill="#fff" stroke="#b01a2c" stroke-width="1.1"/>
<circle cx="388.7" cy="573.7" r="2.45" fill="#fff" stroke="#b01a2c" stroke-width="1.1"/>
<circle cx="384.4" cy="583.1" r="2.45" fill="#fff" stroke="#b01a2c" stroke-width="1.1"/>
<circle cx="388.7" cy="588.5" r="2.45" fill="#fff" stroke="#b01a2c" stroke-width="1.1"/>
<circle cx="383.3" cy="593.9" r="2.45" fill="#fff" stroke="#b01a2c" stroke-width="1.1"/>
<line x1="385.2" y1="547.8" x2="385.2" y2="588" stroke="#222" stroke-width="1" shape-rendering="crispEdges"/>
<line x1="383.7" y1="547.8" x2="386.7" y2="547.8" stroke="#222" stroke-width="1" shape-rendering="crispEdges"/>
<line x1="383.7" y1="588" x2="386.7" y2="588" stroke="#222" stroke-width="1" shape-rendering="crispEdges"/>
<line x1="382.4" y1="569.6" x2="388" y2="569.6" stroke="#222" stroke-width="1" shape-rendering="crispEdges"/>
<circle cx="401.5" cy="512.3" r="2.4" fill="#d6303f" stroke="#7e0e1c" stroke-width="0.9"/>
<circle cx="401.5" cy="546.7" r="2.4" fill="#d6303f" stroke="#7e0e1c" stroke-width="0.9"/>
<circle cx="401.5" cy="549.4" r="2.4" fill="#d6303f" stroke="#7e0e1c" stroke-width="0.9"/>
<circle cx="401.5" cy="554.8" r="2.4" fill="#d6303f" stroke="#7e0e1c" stroke-width="0.9"/>
<circle cx="399.4" cy="564.2" r="2.4" fill="#d6303f" stroke="#7e0e1c" stroke-width="0.9"/>
<circle cx="404.8" cy="560.2" r="2.4" fill="#d6303f" stroke="#7e0e1c" stroke-width="0.9"/>
<circle cx="401.5" cy="569.6" r="2.4" fill="#d6303f" stroke="#7e0e1c" stroke-width="0.9"/>
<circle cx="399.4" cy="572.3" r="2.4" fill="#d6303f" stroke="#7e0e1c" stroke-width="0.9"/>
<circle cx="402.9" cy="573.7" r="2.4" fill="#d6303f" stroke="#7e0e1c" stroke-width="0.9"/>
<circle cx="404.8" cy="584.4" r="2.4" fill="#d6303f" stroke="#7e0e1c" stroke-width="0.9"/>
<circle cx="399.4" cy="588.5" r="2.4" fill="#d6303f" stroke="#7e0e1c" stroke-width="0.9"/>
<line x1="401.5" y1="546.7" x2="401.5" y2="580.4" stroke="#222" stroke-width="1" shape-rendering="crispEdges"/>
<line x1="400" y1="546.7" x2="403" y2="546.7" stroke="#222" stroke-width="1" shape-rendering="crispEdges"/>
<line x1="400" y1="580.4" x2="403" y2="580.4" stroke="#222" stroke-width="1" shape-rendering="crispEdges"/>
<line x1="398.7" y1="565.6" x2="404.3" y2="565.6" stroke="#222" stroke-width="1" shape-rendering="crispEdges"/>
<circle cx="433.3" cy="563.7" r="2.45" fill="#fff" stroke="#b01a2c" stroke-width="1.1"/>
<circle cx="436.5" cy="569.6" r="2.45" fill="#fff" stroke="#b01a2c" stroke-width="1.1"/>
<circle cx="431.2" cy="572.3" r="2.45" fill="#fff" stroke="#b01a2c" stroke-width="1.1"/>
<circle cx="435.2" cy="576.4" r="2.45" fill="#fff" stroke="#b01a2c" stroke-width="1.1"/>
<circle cx="432.5" cy="579" r="2.45" fill="#fff" stroke="#b01a2c" stroke-width="1.1"/>
<circle cx="437.1" cy="584.4" r="2.45" fill="#fff" stroke="#b01a2c" stroke-width="1.1"/>
<circle cx="431.2" cy="587.7" r="2.45" fill="#fff" stroke="#b01a2c" stroke-width="1.1"/>
<circle cx="435.2" cy="588.5" r="2.45" fill="#fff" stroke="#b01a2c" stroke-width="1.1"/>
<line x1="434" y1="569" x2="434" y2="585" stroke="#222" stroke-width="1" shape-rendering="crispEdges"/>
<line x1="432.5" y1="569" x2="435.5" y2="569" stroke="#222" stroke-width="1" shape-rendering="crispEdges"/>
<line x1="432.5" y1="585" x2="435.5" y2="585" stroke="#222" stroke-width="1" shape-rendering="crispEdges"/>
<line x1="431.2" y1="576.4" x2="436.8" y2="576.4" stroke="#222" stroke-width="1" shape-rendering="crispEdges"/>
<circle cx="449.5" cy="548" r="2.4" fill="#d6303f" stroke="#7e0e1c" stroke-width="0.9"/>
<circle cx="449.5" cy="563.7" r="2.4" fill="#d6303f" stroke="#7e0e1c" stroke-width="0.9"/>
<circle cx="452.7" cy="568.8" r="2.4" fill="#d6303f" stroke="#7e0e1c" stroke-width="0.9"/>
<circle cx="446" cy="572.9" r="2.4" fill="#d6303f" stroke="#7e0e1c" stroke-width="0.9"/>
<circle cx="449.5" cy="573.7" r="2.4" fill="#d6303f" stroke="#7e0e1c" stroke-width="0.9"/>
<circle cx="450.5" cy="577.7" r="2.4" fill="#d6303f" stroke="#7e0e1c" stroke-width="0.9"/>
<circle cx="449.5" cy="580.4" r="2.4" fill="#d6303f" stroke="#7e0e1c" stroke-width="0.9"/>
<circle cx="447.3" cy="592.5" r="2.4" fill="#d6303f" stroke="#7e0e1c" stroke-width="0.9"/>
<circle cx="452.7" cy="592.5" r="2.4" fill="#d6303f" stroke="#7e0e1c" stroke-width="0.9"/>
<line x1="449.5" y1="563" x2="449.5" y2="587.5" stroke="#222" stroke-width="1" shape-rendering="crispEdges"/>
<line x1="448" y1="563" x2="451" y2="563" stroke="#222" stroke-width="1" shape-rendering="crispEdges"/>
<line x1="448" y1="587.5" x2="451" y2="587.5" stroke="#222" stroke-width="1" shape-rendering="crispEdges"/>
<line x1="446.7" y1="573.7" x2="452.3" y2="573.7" stroke="#222" stroke-width="1" shape-rendering="crispEdges"/>
</svg>
</body></html>
